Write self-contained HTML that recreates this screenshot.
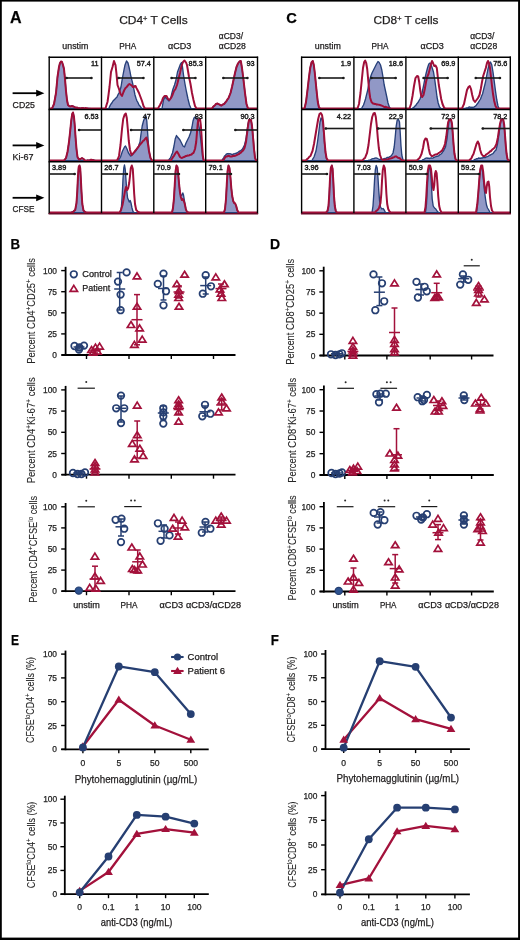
<!DOCTYPE html>
<html><head><meta charset="utf-8"><title>Figure</title>
<style>
html,body{margin:0;padding:0;background:#fff;}
body{width:520px;height:940px;overflow:hidden;font-family:"Liberation Sans", sans-serif;}
svg{display:block;filter:blur(0.3px);}
text{stroke:#1a1a1a;stroke-width:0.25px;}
</style></head><body>
<svg width="520" height="940" viewBox="0 0 520 940" font-family='"Liberation Sans", sans-serif'>
<rect x="0" y="0" width="520" height="940" fill="#fff"/>
<text x="10.00" y="22.60" font-size="16" fill="#000" font-weight="bold" textLength="11.60" lengthAdjust="spacingAndGlyphs">A</text>
<text x="153.40" y="23.60" font-size="11.3" fill="#231f20" text-anchor="middle" textLength="68.50" lengthAdjust="spacingAndGlyphs">CD4<tspan baseline-shift="super" font-size="7">+</tspan> T Cells</text>
<text x="286.20" y="22.90" font-size="15.5" fill="#000" font-weight="bold" textLength="10.60" lengthAdjust="spacingAndGlyphs">C</text>
<text x="406.00" y="23.60" font-size="11.3" fill="#231f20" text-anchor="middle" textLength="65.00" lengthAdjust="spacingAndGlyphs">CD8<tspan baseline-shift="super" font-size="7">+</tspan> T cells</text>
<text x="75.35" y="49.30" font-size="8.6" fill="#231f20" text-anchor="middle" textLength="26.00" lengthAdjust="spacingAndGlyphs">unstim</text>
<text x="127.65" y="49.30" font-size="8.6" fill="#231f20" text-anchor="middle" textLength="17.00" lengthAdjust="spacingAndGlyphs">PHA</text>
<text x="179.75" y="49.30" font-size="8.6" fill="#231f20" text-anchor="middle" textLength="23.30" lengthAdjust="spacingAndGlyphs">αCD3</text>
<text x="218.80" y="38.80" font-size="8.6" fill="#231f20" textLength="24.20" lengthAdjust="spacingAndGlyphs">αCD3/</text>
<text x="218.80" y="49.30" font-size="8.6" fill="#231f20" textLength="27.00" lengthAdjust="spacingAndGlyphs">αCD28</text>
<text x="327.75" y="49.30" font-size="8.6" fill="#231f20" text-anchor="middle" textLength="26.00" lengthAdjust="spacingAndGlyphs">unstim</text>
<text x="379.90" y="49.30" font-size="8.6" fill="#231f20" text-anchor="middle" textLength="17.00" lengthAdjust="spacingAndGlyphs">PHA</text>
<text x="432.10" y="49.30" font-size="8.6" fill="#231f20" text-anchor="middle" textLength="23.30" lengthAdjust="spacingAndGlyphs">αCD3</text>
<text x="470.20" y="38.80" font-size="8.6" fill="#231f20" textLength="24.20" lengthAdjust="spacingAndGlyphs">αCD3/</text>
<text x="470.20" y="49.30" font-size="8.6" fill="#231f20" textLength="27.00" lengthAdjust="spacingAndGlyphs">αCD28</text>
<line x1="12.60" y1="93.20" x2="38.50" y2="93.20" stroke="#000" stroke-width="1.8" stroke-linecap="butt"/>
<path d="M36.2 89.80 L44.4 93.20 L36.2 96.60 Z" fill="#000"/>
<text x="12.60" y="107.60" font-size="8.6" fill="#231f20" textLength="22.30" lengthAdjust="spacingAndGlyphs">CD25</text>
<line x1="12.60" y1="145.40" x2="38.50" y2="145.40" stroke="#000" stroke-width="1.8" stroke-linecap="butt"/>
<path d="M36.2 142.00 L44.4 145.40 L36.2 148.80 Z" fill="#000"/>
<text x="12.60" y="159.70" font-size="8.6" fill="#231f20" textLength="21.00" lengthAdjust="spacingAndGlyphs">Ki-67</text>
<line x1="12.60" y1="197.80" x2="38.50" y2="197.80" stroke="#000" stroke-width="1.8" stroke-linecap="butt"/>
<path d="M36.2 194.40 L44.4 197.80 L36.2 201.20 Z" fill="#000"/>
<text x="12.60" y="212.20" font-size="8.6" fill="#231f20" textLength="22.00" lengthAdjust="spacingAndGlyphs">CFSE</text>
<clipPath id="c1"><rect x="49.20" y="57.20" width="52.30" height="52.30"/></clipPath>
<g clip-path="url(#c1)">
<path d="M48.20 108.60 L52.00 108.60 L52.00 108.50 L53.00 106.04 L54.00 104.00 L55.00 98.18 L56.00 93.00 L57.50 77.00 L59.00 67.00 L60.00 63.00 L61.00 61.50 L62.00 62.00 L63.00 65.00 L64.00 69.00 L65.00 79.00 L66.00 91.00 L67.00 100.00 L68.00 105.00 L69.50 106.30 L70.33 106.12 L71.17 105.82 L72.00 106.00 L73.00 106.00 L74.00 106.70 L75.00 107.12 L76.00 107.70 L76.80 108.13 L77.60 108.14 L78.40 108.21 L79.20 107.88 L80.00 108.20 L80.83 108.25 L81.67 108.07 L82.50 108.01 L83.33 107.98 L84.17 108.10 L85.00 108.69 L85.83 108.64 L86.67 108.65 L87.50 108.67 L88.33 108.20 L89.17 108.32 L90.00 108.50 L90.00 108.60 L102.50 108.60 Z" fill="#9198c6" stroke="#27407a" stroke-width="1.35" stroke-linejoin="round"/>
<path d="M48.20 108.60 L52.00 108.60 L52.00 108.50 L53.00 106.35 L54.00 104.00 L55.00 98.69 L56.00 93.00 L57.50 77.00 L59.00 67.00 L60.00 63.00 L61.00 61.50 L62.00 62.00 L63.00 65.00 L64.00 69.00 L65.00 79.00 L66.00 91.00 L67.00 100.00 L68.00 105.00 L69.50 106.30 L70.33 106.44 L71.17 106.45 L72.00 106.00 L73.00 106.54 L74.00 106.70 L75.00 107.54 L76.00 107.70 L76.80 107.42 L77.60 107.87 L78.40 108.35 L79.20 108.22 L80.00 108.20 L80.83 108.55 L81.67 107.94 L82.50 108.25 L83.33 108.10 L84.17 108.36 L85.00 108.41 L85.83 107.99 L86.67 108.17 L87.50 108.25 L88.33 108.78 L89.17 108.69 L90.00 108.50 L90.00 108.60 L102.50 108.60" fill="none" stroke="#a00f39" stroke-width="2.0" stroke-linejoin="round"/>
</g>
<clipPath id="c2"><rect x="101.50" y="57.20" width="52.30" height="52.30"/></clipPath>
<g clip-path="url(#c2)">
<path d="M100.50 108.60 L108.50 108.60 L108.50 109.00 L109.33 107.19 L110.17 105.39 L111.00 104.00 L112.00 102.79 L113.00 100.99 L114.00 100.00 L115.00 99.03 L116.00 97.89 L117.00 97.00 L118.00 94.65 L119.00 93.00 L120.00 90.01 L121.00 87.00 L122.00 80.63 L123.00 75.00 L124.00 69.95 L125.00 65.00 L126.50 61.00 L128.00 63.00 L129.00 67.00 L130.00 71.66 L131.00 77.00 L132.00 80.67 L133.00 85.00 L134.00 89.94 L135.00 95.00 L136.00 98.26 L137.00 101.00 L138.00 102.70 L139.00 105.00 L140.00 106.03 L141.00 107.50 L142.00 108.35 L143.00 109.00 L143.00 108.60 L154.80 108.60 Z" fill="#9198c6" stroke="#27407a" stroke-width="1.35" stroke-linejoin="round"/>
<path d="M100.50 108.60 L105.50 108.60 L105.50 108.50 L106.50 105.03 L107.50 102.00 L108.50 94.87 L109.50 87.00 L111.00 72.00 L112.50 67.00 L114.00 61.00 L115.50 65.00 L116.50 74.00 L117.50 85.00 L119.00 89.00 L120.50 94.00 L122.00 96.00 L123.50 92.00 L124.50 89.70 L125.50 88.00 L126.50 87.16 L127.50 86.00 L128.50 84.67 L129.50 84.00 L131.00 85.00 L132.00 85.80 L133.00 87.00 L133.83 87.07 L134.67 86.10 L135.50 86.00 L136.50 88.11 L137.50 90.00 L139.00 93.00 L140.50 97.00 L142.00 101.00 L143.50 106.00 L145.00 108.50 L145.00 108.60 L154.80 108.60" fill="none" stroke="#a00f39" stroke-width="2.0" stroke-linejoin="round"/>
</g>
<clipPath id="c3"><rect x="153.80" y="57.20" width="51.90" height="52.30"/></clipPath>
<g clip-path="url(#c3)">
<path d="M152.80 108.60 L162.00 108.60 L162.00 108.50 L163.50 100.00 L165.00 97.00 L166.00 98.06 L167.00 99.00 L168.00 99.94 L169.00 101.00 L170.00 99.06 L171.00 97.00 L172.00 92.76 L173.00 89.00 L174.50 85.00 L176.00 80.00 L177.50 72.00 L179.00 68.00 L180.50 64.00 L181.50 62.50 L182.50 67.00 L183.50 75.00 L185.00 84.00 L186.50 92.00 L188.00 99.00 L189.50 105.00 L191.00 108.50 L191.00 108.60 L206.70 108.60 Z" fill="#9198c6" stroke="#27407a" stroke-width="1.35" stroke-linejoin="round"/>
<path d="M152.80 108.60 L158.00 108.60 L158.00 108.50 L159.00 106.63 L160.00 104.88 L161.00 103.00 L162.00 100.84 L163.00 98.00 L164.50 96.00 L165.50 95.97 L166.50 96.00 L168.00 99.00 L169.50 100.00 L171.00 98.00 L172.50 95.00 L174.00 91.00 L175.50 89.00 L177.00 85.00 L178.50 79.00 L180.00 73.00 L181.50 66.00 L183.00 62.00 L184.50 60.50 L186.00 62.50 L187.00 65.00 L188.00 71.00 L189.00 77.00 L190.50 84.00 L192.00 93.00 L193.50 100.00 L195.00 106.00 L196.50 108.50 L196.50 108.60 L206.70 108.60" fill="none" stroke="#a00f39" stroke-width="2.0" stroke-linejoin="round"/>
</g>
<clipPath id="c4"><rect x="205.70" y="57.20" width="51.80" height="52.30"/></clipPath>
<g clip-path="url(#c4)">
<path d="M204.70 108.60 L212.00 108.60 L212.00 108.50 L213.00 107.06 L214.00 106.00 L215.00 105.15 L216.00 104.00 L217.50 103.50 L218.50 104.15 L219.50 104.50 L220.50 105.28 L221.50 105.50 L222.33 104.75 L223.17 104.28 L224.00 104.00 L224.83 102.72 L225.67 101.78 L226.50 101.00 L227.50 99.69 L228.50 98.00 L229.50 95.20 L230.50 93.00 L232.00 87.00 L233.50 80.00 L235.00 73.00 L236.50 67.00 L238.00 63.50 L239.50 61.50 L240.80 61.00 L242.00 68.00 L243.50 80.00 L245.00 93.00 L246.50 104.00 L248.00 108.50 L248.00 108.60 L258.50 108.60 Z" fill="#9198c6" stroke="#27407a" stroke-width="1.35" stroke-linejoin="round"/>
<path d="M204.70 108.60 L212.00 108.60 L212.00 108.50 L213.00 106.94 L214.00 106.00 L215.00 105.16 L216.00 104.00 L217.50 103.50 L218.50 104.12 L219.50 104.50 L220.50 105.35 L221.50 105.50 L222.33 104.82 L223.17 104.30 L224.00 104.00 L224.83 103.19 L225.67 102.13 L226.50 101.00 L227.50 99.34 L228.50 98.00 L229.50 95.65 L230.50 93.00 L232.00 87.00 L233.50 80.00 L235.00 73.00 L236.50 67.00 L238.00 63.50 L239.50 61.50 L240.80 61.00 L242.00 68.00 L243.50 80.00 L245.00 93.00 L246.50 104.00 L248.00 108.50 L248.00 108.60 L258.50 108.60" fill="none" stroke="#a00f39" stroke-width="2.0" stroke-linejoin="round"/>
</g>
<clipPath id="c5"><rect x="49.20" y="109.50" width="52.30" height="52.30"/></clipPath>
<g clip-path="url(#c5)">
<path d="M48.20 160.60 L64.00 160.60 L64.00 160.50 L65.00 159.14 L66.00 158.00 L67.50 152.00 L69.00 142.00 L70.20 131.00 L71.20 121.00 L72.20 114.00 L73.00 112.50 L74.00 117.00 L74.80 126.00 L75.60 138.00 L76.50 149.00 L77.50 157.00 L79.00 159.50 L80.50 159.00 L82.00 158.00 L83.50 159.00 L85.00 160.50 L85.80 160.43 L86.60 160.33 L87.40 160.31 L88.20 160.23 L89.00 160.38 L89.80 160.01 L90.60 160.26 L91.40 159.71 L92.20 159.89 L93.00 160.00 L94.00 160.12 L95.00 160.50 L95.00 160.60 L102.50 160.60 Z" fill="#9198c6" stroke="#27407a" stroke-width="1.35" stroke-linejoin="round"/>
<path d="M48.20 160.60 L64.00 160.60 L64.00 160.50 L65.00 159.27 L66.00 158.00 L67.50 152.00 L69.00 142.00 L70.20 131.00 L71.20 121.00 L72.20 114.00 L73.00 112.50 L74.00 117.00 L74.80 126.00 L75.60 138.00 L76.50 149.00 L77.50 157.00 L79.00 159.50 L80.50 159.00 L82.00 158.00 L83.50 159.00 L85.00 160.50 L85.80 160.70 L86.60 160.77 L87.40 160.18 L88.20 160.51 L89.00 160.41 L89.80 160.33 L90.60 159.84 L91.40 159.72 L92.20 159.96 L93.00 160.00 L94.00 160.45 L95.00 160.50 L95.00 160.60 L102.50 160.60" fill="none" stroke="#a00f39" stroke-width="2.0" stroke-linejoin="round"/>
</g>
<clipPath id="c6"><rect x="101.50" y="109.50" width="52.30" height="52.30"/></clipPath>
<g clip-path="url(#c6)">
<path d="M100.50 160.60 L118.00 160.60 L118.00 160.50 L118.83 159.48 L119.67 158.39 L120.50 157.00 L121.50 154.02 L122.50 151.00 L123.50 149.01 L124.50 147.00 L125.50 146.00 L127.00 149.00 L128.50 153.00 L129.50 154.41 L130.50 156.00 L131.50 155.65 L132.50 154.50 L133.33 153.50 L134.17 152.55 L135.00 152.00 L136.00 150.31 L137.00 149.00 L138.50 146.00 L140.00 142.00 L141.00 134.00 L142.20 126.00 L143.50 121.00 L145.00 117.00 L146.00 116.00 L146.80 121.00 L147.50 131.00 L148.20 141.00 L149.00 151.00 L150.50 158.00 L152.00 160.50 L152.00 160.60 L154.80 160.60 Z" fill="#9198c6" stroke="#27407a" stroke-width="1.35" stroke-linejoin="round"/>
<path d="M100.50 160.60 L117.00 160.60 L117.00 160.50 L118.00 158.57 L119.00 156.00 L120.50 145.00 L122.00 129.00 L123.20 119.00 L124.50 115.00 L125.80 113.50 L126.80 118.00 L127.80 129.00 L128.80 141.00 L130.00 150.00 L131.50 155.00 L133.00 153.50 L134.00 152.40 L135.00 151.00 L136.00 149.96 L137.00 148.50 L138.00 147.57 L139.00 146.00 L140.00 144.56 L141.00 143.50 L142.00 142.36 L143.00 141.00 L144.00 140.32 L145.00 139.00 L146.50 137.50 L147.80 143.00 L149.00 151.00 L150.50 158.00 L152.00 160.50 L152.00 160.60 L154.80 160.60" fill="none" stroke="#a00f39" stroke-width="2.0" stroke-linejoin="round"/>
</g>
<clipPath id="c7"><rect x="153.80" y="109.50" width="51.90" height="52.30"/></clipPath>
<g clip-path="url(#c7)">
<path d="M152.80 160.60 L168.00 160.60 L168.00 160.50 L168.83 160.03 L169.67 158.55 L170.50 158.00 L171.50 155.12 L172.50 153.00 L174.00 146.00 L175.20 139.00 L176.50 135.50 L177.50 137.00 L178.80 138.50 L180.00 140.00 L181.50 143.00 L183.00 146.00 L184.50 147.00 L186.00 143.00 L187.50 140.00 L189.00 137.00 L190.50 133.00 L192.00 127.00 L193.00 121.00 L194.00 118.00 L195.00 117.00 L196.50 118.00 L198.00 121.00 L199.50 129.00 L201.00 142.00 L202.50 156.00 L203.50 160.50 L203.50 160.60 L206.70 160.60 Z" fill="#9198c6" stroke="#27407a" stroke-width="1.35" stroke-linejoin="round"/>
<path d="M152.80 160.60 L170.50 160.60 L170.50 160.50 L171.33 159.67 L172.17 158.53 L173.00 157.00 L174.00 155.81 L175.00 154.00 L176.00 152.42 L177.00 151.50 L178.50 154.00 L180.00 157.00 L181.00 157.57 L182.00 158.00 L183.00 157.44 L184.00 157.00 L184.83 156.69 L185.67 156.04 L186.50 156.00 L187.33 155.59 L188.17 155.62 L189.00 155.50 L189.83 154.94 L190.67 154.80 L191.50 154.50 L192.50 153.37 L193.50 153.00 L195.00 149.00 L196.20 142.00 L197.00 132.00 L197.80 123.00 L198.50 119.50 L200.00 119.00 L200.80 125.00 L201.50 135.00 L202.20 147.00 L203.00 157.00 L203.70 160.50 L203.70 160.60 L206.70 160.60" fill="none" stroke="#a00f39" stroke-width="2.0" stroke-linejoin="round"/>
</g>
<clipPath id="c8"><rect x="205.70" y="109.50" width="51.80" height="52.30"/></clipPath>
<g clip-path="url(#c8)">
<path d="M204.70 160.60 L222.00 160.60 L222.00 160.50 L222.83 158.90 L223.67 157.84 L224.50 156.00 L225.50 155.27 L226.50 154.00 L227.33 153.60 L228.17 153.96 L229.00 153.50 L229.83 153.94 L230.67 153.80 L231.50 154.50 L232.33 154.70 L233.17 153.97 L234.00 154.00 L235.00 153.51 L236.00 153.27 L237.00 153.00 L238.00 152.40 L239.00 151.37 L240.00 151.00 L240.83 150.48 L241.67 149.93 L242.50 149.00 L243.50 147.01 L244.50 145.00 L246.00 139.00 L247.00 131.00 L248.00 124.00 L249.00 120.00 L250.00 120.24 L251.00 120.00 L252.00 125.00 L253.00 135.00 L254.00 147.00 L255.00 157.00 L256.00 160.50 L256.00 160.60 L258.50 160.60 Z" fill="#9198c6" stroke="#27407a" stroke-width="1.35" stroke-linejoin="round"/>
<path d="M204.70 160.60 L223.00 160.60 L223.00 160.50 L223.83 159.53 L224.67 157.93 L225.50 157.00 L226.33 156.43 L227.17 156.41 L228.00 156.00 L229.00 155.81 L230.00 156.55 L231.00 156.50 L232.00 156.54 L233.00 155.80 L234.00 156.00 L235.00 155.81 L236.00 155.34 L237.00 155.00 L238.00 154.44 L239.00 154.03 L240.00 153.00 L240.83 152.72 L241.67 151.59 L242.50 151.00 L243.50 149.78 L244.50 148.00 L246.00 142.00 L247.00 134.00 L248.00 126.00 L249.00 120.00 L250.00 120.23 L251.00 120.00 L252.00 126.00 L253.00 137.00 L254.00 149.00 L255.00 158.00 L256.00 160.50 L256.00 160.60 L258.50 160.60" fill="none" stroke="#a00f39" stroke-width="2.0" stroke-linejoin="round"/>
</g>
<clipPath id="c9"><rect x="49.20" y="161.80" width="52.30" height="52.20"/></clipPath>
<g clip-path="url(#c9)">
<path d="M48.20 212.60 L71.00 212.60 L71.00 212.50 L72.00 211.94 L73.00 212.00 L74.10 210.70 L75.20 210.00 L76.50 203.00 L77.30 191.00 L78.00 176.00 L78.70 167.00 L79.50 165.50 L80.20 168.00 L80.80 178.00 L81.50 192.00 L82.30 204.00 L83.50 210.50 L85.00 212.00 L86.00 212.33 L87.00 212.50 L87.00 212.60 L102.50 212.60 Z" fill="#9198c6" stroke="#27407a" stroke-width="1.35" stroke-linejoin="round"/>
<path d="M48.20 212.60 L71.00 212.60 L71.00 212.50 L72.00 212.29 L73.00 212.00 L74.10 210.88 L75.20 210.00 L76.50 203.00 L77.30 191.00 L78.00 176.00 L78.70 167.00 L79.50 165.50 L80.20 168.00 L80.80 178.00 L81.50 192.00 L82.30 204.00 L83.50 210.50 L85.00 212.00 L86.00 212.53 L87.00 212.50 L87.00 212.60 L102.50 212.60" fill="none" stroke="#a00f39" stroke-width="2.0" stroke-linejoin="round"/>
</g>
<clipPath id="c10"><rect x="101.50" y="161.80" width="52.30" height="52.20"/></clipPath>
<g clip-path="url(#c10)">
<path d="M100.50 212.60 L120.50 212.60 L120.50 212.50 L121.50 206.00 L122.30 194.00 L123.00 179.00 L123.80 168.00 L124.50 165.00 L125.20 169.00 L126.00 180.00 L126.80 191.00 L127.60 198.00 L128.50 200.00 L129.30 202.00 L130.20 200.50 L131.00 203.00 L132.00 208.00 L133.00 211.50 L134.00 212.50 L134.00 212.60 L154.80 212.60 Z" fill="#9198c6" stroke="#27407a" stroke-width="1.35" stroke-linejoin="round"/>
<path d="M100.50 212.60 L119.50 212.60 L119.50 212.50 L121.00 210.00 L122.50 205.00 L123.80 198.00 L125.00 191.00 L126.00 187.00 L127.20 190.00 L128.20 188.00 L129.20 183.00 L130.00 176.00 L130.80 168.00 L131.80 165.50 L132.80 169.00 L133.50 181.00 L134.20 194.00 L135.00 204.00 L136.20 210.00 L137.10 210.76 L138.00 212.20 L139.00 212.12 L140.00 212.50 L140.00 212.60 L154.80 212.60" fill="none" stroke="#a00f39" stroke-width="2.0" stroke-linejoin="round"/>
</g>
<clipPath id="c11"><rect x="153.80" y="161.80" width="51.90" height="52.20"/></clipPath>
<g clip-path="url(#c11)">
<path d="M152.80 212.60 L172.00 212.60 L172.00 212.50 L173.00 208.00 L174.00 198.00 L174.80 184.00 L175.60 171.00 L176.50 165.50 L177.50 167.00 L178.20 174.00 L179.00 183.00 L179.80 191.00 L180.80 196.00 L182.00 195.00 L182.80 193.00 L183.50 195.00 L184.50 201.00 L185.80 209.00 L187.00 212.00 L188.50 212.50 L188.50 212.60 L206.70 212.60 Z" fill="#9198c6" stroke="#27407a" stroke-width="1.35" stroke-linejoin="round"/>
<path d="M152.80 212.60 L172.00 212.60 L172.00 212.50 L173.00 208.00 L174.00 198.00 L174.80 184.00 L175.60 171.00 L176.50 165.50 L177.50 167.00 L178.20 174.00 L179.00 183.00 L179.80 191.00 L180.80 197.00 L181.80 200.00 L182.80 199.00 L183.80 201.00 L184.80 204.00 L185.80 209.00 L187.00 212.00 L188.50 212.50 L188.50 212.60 L206.70 212.60" fill="none" stroke="#a00f39" stroke-width="2.0" stroke-linejoin="round"/>
</g>
<clipPath id="c12"><rect x="205.70" y="161.80" width="51.80" height="52.20"/></clipPath>
<g clip-path="url(#c12)">
<path d="M204.70 212.60 L224.00 212.60 L224.00 212.50 L225.00 209.00 L226.00 199.00 L226.80 184.00 L227.60 171.00 L228.50 165.50 L229.50 168.00 L230.50 178.00 L231.30 188.00 L232.20 196.00 L233.20 201.00 L234.20 203.00 L235.20 203.50 L236.20 206.00 L237.20 210.00 L238.50 212.50 L238.50 212.60 L258.50 212.60 Z" fill="#9198c6" stroke="#27407a" stroke-width="1.35" stroke-linejoin="round"/>
<path d="M204.70 212.60 L224.00 212.60 L224.00 212.50 L225.00 209.00 L226.00 199.00 L226.80 184.00 L227.60 171.00 L228.50 165.50 L229.50 168.00 L230.50 178.00 L231.30 188.00 L232.20 196.00 L233.20 201.00 L234.20 203.00 L235.20 203.50 L236.20 206.00 L237.20 210.00 L238.50 212.50 L238.50 212.60 L258.50 212.60" fill="none" stroke="#a00f39" stroke-width="2.0" stroke-linejoin="round"/>
</g>
<line x1="49.20" y1="56.60" x2="49.20" y2="214.00" stroke="#000" stroke-width="1.4" stroke-linecap="butt"/>
<line x1="101.50" y1="56.60" x2="101.50" y2="214.00" stroke="#000" stroke-width="1.4" stroke-linecap="butt"/>
<line x1="153.80" y1="56.60" x2="153.80" y2="214.00" stroke="#000" stroke-width="1.4" stroke-linecap="butt"/>
<line x1="205.70" y1="56.60" x2="205.70" y2="214.00" stroke="#000" stroke-width="1.4" stroke-linecap="butt"/>
<line x1="257.50" y1="56.60" x2="257.50" y2="214.00" stroke="#000" stroke-width="1.4" stroke-linecap="butt"/>
<line x1="48.60" y1="57.20" x2="258.10" y2="57.20" stroke="#000" stroke-width="1.4" stroke-linecap="butt"/>
<line x1="48.60" y1="109.50" x2="258.10" y2="109.50" stroke="#000" stroke-width="1.4" stroke-linecap="butt"/>
<line x1="48.60" y1="161.80" x2="258.10" y2="161.80" stroke="#000" stroke-width="1.4" stroke-linecap="butt"/>
<line x1="48.60" y1="213.70" x2="258.10" y2="213.70" stroke="#6a0c2a" stroke-width="1.6" stroke-linecap="butt"/>
<line x1="66.00" y1="78.00" x2="92.00" y2="78.00" stroke="#1a1a1a" stroke-width="1.6" stroke-linecap="butt"/>
<circle cx="66.60" cy="78.00" r="1.35" fill="#1a1a1a"/>
<circle cx="91.40" cy="78.00" r="1.35" fill="#1a1a1a"/>
<line x1="118.00" y1="78.00" x2="144.00" y2="78.00" stroke="#1a1a1a" stroke-width="1.6" stroke-linecap="butt"/>
<circle cx="118.60" cy="78.00" r="1.35" fill="#1a1a1a"/>
<circle cx="143.40" cy="78.00" r="1.35" fill="#1a1a1a"/>
<line x1="171.00" y1="78.00" x2="196.00" y2="78.00" stroke="#1a1a1a" stroke-width="1.6" stroke-linecap="butt"/>
<circle cx="171.60" cy="78.00" r="1.35" fill="#1a1a1a"/>
<circle cx="195.40" cy="78.00" r="1.35" fill="#1a1a1a"/>
<line x1="222.80" y1="78.00" x2="248.00" y2="78.00" stroke="#1a1a1a" stroke-width="1.6" stroke-linecap="butt"/>
<circle cx="223.40" cy="78.00" r="1.35" fill="#1a1a1a"/>
<circle cx="247.40" cy="78.00" r="1.35" fill="#1a1a1a"/>
<line x1="78.50" y1="130.00" x2="101.50" y2="130.00" stroke="#1a1a1a" stroke-width="1.6" stroke-linecap="butt"/>
<circle cx="79.10" cy="130.00" r="1.35" fill="#1a1a1a"/>
<line x1="130.50" y1="130.00" x2="153.80" y2="130.00" stroke="#1a1a1a" stroke-width="1.6" stroke-linecap="butt"/>
<circle cx="131.10" cy="130.00" r="1.35" fill="#1a1a1a"/>
<line x1="182.80" y1="130.00" x2="205.70" y2="130.00" stroke="#1a1a1a" stroke-width="1.6" stroke-linecap="butt"/>
<circle cx="183.40" cy="130.00" r="1.35" fill="#1a1a1a"/>
<line x1="234.80" y1="130.00" x2="257.50" y2="130.00" stroke="#1a1a1a" stroke-width="1.6" stroke-linecap="butt"/>
<circle cx="235.40" cy="130.00" r="1.35" fill="#1a1a1a"/>
<line x1="49.20" y1="174.00" x2="75.20" y2="174.00" stroke="#1a1a1a" stroke-width="1.6" stroke-linecap="butt"/>
<circle cx="74.60" cy="174.00" r="1.35" fill="#1a1a1a"/>
<line x1="101.50" y1="174.00" x2="127.50" y2="174.00" stroke="#1a1a1a" stroke-width="1.6" stroke-linecap="butt"/>
<circle cx="126.90" cy="174.00" r="1.35" fill="#1a1a1a"/>
<line x1="153.80" y1="174.00" x2="179.50" y2="174.00" stroke="#1a1a1a" stroke-width="1.6" stroke-linecap="butt"/>
<circle cx="178.90" cy="174.00" r="1.35" fill="#1a1a1a"/>
<line x1="205.70" y1="174.00" x2="231.50" y2="174.00" stroke="#1a1a1a" stroke-width="1.6" stroke-linecap="butt"/>
<circle cx="230.90" cy="174.00" r="1.35" fill="#1a1a1a"/>
<text x="98.60" y="65.70" font-size="7.3" fill="#1a1a1a" text-anchor="end" style="stroke-width:0.4px">11</text>
<text x="150.90" y="65.70" font-size="7.3" fill="#1a1a1a" text-anchor="end" style="stroke-width:0.4px">57.4</text>
<text x="202.80" y="65.70" font-size="7.3" fill="#1a1a1a" text-anchor="end" style="stroke-width:0.4px">85.3</text>
<text x="254.60" y="65.70" font-size="7.3" fill="#1a1a1a" text-anchor="end" style="stroke-width:0.4px">93</text>
<text x="98.60" y="118.60" font-size="7.3" fill="#1a1a1a" text-anchor="end" style="stroke-width:0.4px">6.53</text>
<text x="150.90" y="118.60" font-size="7.3" fill="#1a1a1a" text-anchor="end" style="stroke-width:0.4px">47</text>
<text x="202.80" y="118.60" font-size="7.3" fill="#1a1a1a" text-anchor="end" style="stroke-width:0.4px">83</text>
<text x="254.60" y="118.60" font-size="7.3" fill="#1a1a1a" text-anchor="end" style="stroke-width:0.4px">90.3</text>
<text x="52.00" y="169.90" font-size="7.3" fill="#1a1a1a" style="stroke-width:0.4px">3.89</text>
<text x="104.30" y="169.90" font-size="7.3" fill="#1a1a1a" style="stroke-width:0.4px">26.7</text>
<text x="156.60" y="169.90" font-size="7.3" fill="#1a1a1a" style="stroke-width:0.4px">70.9</text>
<text x="208.50" y="169.90" font-size="7.3" fill="#1a1a1a" style="stroke-width:0.4px">79.1</text>
<clipPath id="c20"><rect x="301.60" y="57.20" width="52.30" height="52.30"/></clipPath>
<g clip-path="url(#c20)">
<path d="M300.60 108.60 L304.50 108.60 L304.50 108.50 L306.00 102.00 L307.50 90.00 L309.00 77.00 L310.20 68.00 L311.50 62.50 L312.80 61.00 L313.80 65.00 L314.80 73.00 L315.80 83.00 L316.80 93.00 L317.80 102.00 L319.00 107.50 L320.50 108.50 L320.50 108.60 L354.90 108.60 Z" fill="#9198c6" stroke="#27407a" stroke-width="1.35" stroke-linejoin="round"/>
<path d="M300.60 108.60 L304.50 108.60 L304.50 108.50 L306.00 102.00 L307.50 90.00 L309.00 77.00 L310.20 68.00 L311.50 62.50 L312.80 61.00 L313.80 65.00 L314.80 73.00 L315.80 83.00 L316.80 93.00 L317.80 102.00 L319.00 107.50 L320.50 108.50 L320.50 108.60 L354.90 108.60" fill="none" stroke="#a00f39" stroke-width="2.0" stroke-linejoin="round"/>
</g>
<clipPath id="c21"><rect x="353.90" y="57.20" width="52.00" height="52.30"/></clipPath>
<g clip-path="url(#c21)">
<path d="M352.90 108.60 L361.50 108.60 L361.50 108.50 L362.50 106.73 L363.50 105.00 L364.50 102.10 L365.50 99.00 L366.50 94.92 L367.50 91.00 L369.00 83.00 L370.50 77.00 L372.00 73.00 L373.50 70.00 L375.00 67.00 L376.50 64.00 L378.00 61.50 L379.20 62.50 L380.50 65.00 L381.80 70.00 L383.00 77.00 L384.20 85.00 L385.50 91.00 L386.80 97.00 L388.00 103.00 L389.50 107.50 L391.00 108.50 L391.00 108.60 L406.90 108.60 Z" fill="#9198c6" stroke="#27407a" stroke-width="1.35" stroke-linejoin="round"/>
<path d="M352.90 108.60 L357.50 108.60 L357.50 108.50 L359.00 104.00 L360.50 93.00 L361.80 80.00 L363.00 68.00 L364.20 62.00 L365.20 60.50 L366.20 63.00 L367.20 69.00 L368.20 80.00 L369.20 91.00 L370.20 98.00 L371.50 102.00 L373.00 103.50 L374.00 103.68 L375.00 104.00 L375.83 104.00 L376.67 104.61 L377.50 104.50 L378.33 104.62 L379.17 104.86 L380.00 105.00 L380.83 105.37 L381.67 105.54 L382.50 106.00 L383.33 106.44 L384.17 106.99 L385.00 107.00 L385.83 106.82 L386.67 107.38 L387.50 107.50 L388.50 107.81 L389.50 108.50 L389.50 108.60 L406.90 108.60" fill="none" stroke="#a00f39" stroke-width="2.0" stroke-linejoin="round"/>
</g>
<clipPath id="c22"><rect x="405.90" y="57.20" width="52.40" height="52.30"/></clipPath>
<g clip-path="url(#c22)">
<path d="M404.90 108.60 L412.50 108.60 L412.50 108.50 L413.33 107.33 L414.17 107.05 L415.00 106.00 L415.83 105.38 L416.67 103.93 L417.50 103.00 L418.33 102.02 L419.17 100.28 L420.00 99.00 L421.00 96.10 L422.00 93.00 L423.50 86.00 L425.00 78.00 L426.20 73.00 L427.50 68.00 L428.80 64.00 L430.00 63.00 L431.20 65.00 L432.20 68.00 L433.50 72.00 L434.80 80.00 L436.00 89.00 L437.00 97.00 L438.20 103.00 L439.50 107.00 L441.00 108.50 L441.00 108.60 L459.30 108.60 Z" fill="#9198c6" stroke="#27407a" stroke-width="1.35" stroke-linejoin="round"/>
<path d="M404.90 108.60 L409.50 108.60 L409.50 108.50 L411.00 104.00 L412.50 96.00 L414.00 86.00 L415.50 78.00 L417.00 76.00 L418.20 76.50 L419.20 82.00 L420.20 90.00 L421.20 96.00 L422.20 97.00 L423.50 95.00 L424.80 89.00 L426.00 82.00 L427.20 77.00 L428.50 74.00 L429.80 69.00 L431.00 64.00 L432.00 61.00 L433.00 63.00 L434.20 66.00 L435.50 65.50 L436.80 68.00 L437.80 77.00 L438.80 85.00 L440.00 92.00 L441.20 99.00 L442.50 104.00 L444.00 107.50 L445.50 108.50 L445.50 108.60 L459.30 108.60" fill="none" stroke="#a00f39" stroke-width="2.0" stroke-linejoin="round"/>
</g>
<clipPath id="c23"><rect x="458.30" y="57.20" width="52.00" height="52.30"/></clipPath>
<g clip-path="url(#c23)">
<path d="M457.30 108.60 L464.00 108.60 L464.00 108.50 L465.00 108.66 L466.00 108.00 L467.00 108.00 L468.00 107.63 L469.00 107.04 L470.00 107.00 L471.00 107.56 L472.00 107.06 L473.00 107.50 L473.83 107.14 L474.67 106.58 L475.50 106.00 L476.33 105.17 L477.17 103.93 L478.00 103.00 L478.83 101.57 L479.67 100.25 L480.50 99.00 L481.50 96.16 L482.50 94.00 L484.00 88.00 L485.50 82.00 L486.80 75.00 L488.00 69.00 L489.20 64.00 L490.50 62.00 L491.80 65.00 L493.00 72.00 L494.20 81.00 L495.50 91.00 L496.80 100.00 L498.00 106.00 L499.00 108.50 L499.00 108.60 L511.30 108.60 Z" fill="#9198c6" stroke="#27407a" stroke-width="1.35" stroke-linejoin="round"/>
<path d="M457.30 108.60 L462.00 108.60 L462.00 108.50 L463.00 106.11 L464.00 104.00 L465.50 97.00 L467.00 90.00 L468.50 87.00 L469.80 86.00 L471.00 89.00 L472.20 95.00 L473.50 100.00 L475.00 102.00 L476.50 100.00 L478.00 98.00 L479.50 95.00 L480.80 89.00 L482.00 82.00 L483.20 76.00 L484.50 72.00 L485.80 68.00 L487.00 63.00 L488.00 61.00 L489.00 63.00 L490.00 68.00 L491.00 77.00 L492.00 86.00 L493.00 94.00 L494.20 101.00 L495.50 106.00 L497.00 108.50 L497.00 108.60 L511.30 108.60" fill="none" stroke="#a00f39" stroke-width="2.0" stroke-linejoin="round"/>
</g>
<clipPath id="c24"><rect x="301.60" y="109.50" width="52.30" height="52.30"/></clipPath>
<g clip-path="url(#c24)">
<path d="M300.60 160.60 L312.00 160.60 L312.00 160.50 L313.00 158.57 L314.00 157.00 L315.00 154.00 L316.00 151.00 L317.50 142.00 L318.80 132.00 L320.00 122.00 L321.00 118.00 L322.00 119.00 L323.00 124.00 L323.80 134.00 L324.60 144.00 L325.50 153.00 L326.50 158.50 L327.50 160.50 L327.50 160.60 L354.90 160.60 Z" fill="#9198c6" stroke="#27407a" stroke-width="1.35" stroke-linejoin="round"/>
<path d="M300.60 160.60 L305.00 160.60 L305.00 160.50 L306.00 160.12 L307.00 159.18 L308.00 158.50 L308.83 157.36 L309.67 156.53 L310.50 156.00 L311.50 153.35 L312.50 151.00 L314.00 144.00 L315.50 135.00 L317.00 126.00 L318.20 119.00 L319.50 114.00 L320.80 113.00 L322.00 115.00 L323.00 121.00 L323.80 131.00 L324.60 142.00 L325.50 152.00 L326.50 158.00 L328.00 160.50 L328.00 160.60 L354.90 160.60" fill="none" stroke="#a00f39" stroke-width="2.0" stroke-linejoin="round"/>
</g>
<clipPath id="c25"><rect x="353.90" y="109.50" width="52.00" height="52.30"/></clipPath>
<g clip-path="url(#c25)">
<path d="M352.90 160.60 L368.00 160.60 L368.00 160.50 L369.00 160.06 L370.00 160.19 L371.00 159.50 L372.00 158.93 L373.00 158.67 L374.00 158.50 L375.00 158.18 L376.00 158.00 L376.83 158.12 L377.67 158.51 L378.50 159.00 L379.38 159.40 L380.25 159.24 L381.12 159.04 L382.00 159.50 L383.00 159.44 L384.00 158.62 L385.00 158.50 L386.00 158.40 L387.00 157.48 L388.00 157.50 L389.00 157.13 L390.00 156.57 L391.00 156.00 L392.00 154.59 L393.00 153.00 L394.20 147.00 L395.20 137.00 L396.20 126.00 L397.20 120.00 L398.50 119.50 L399.50 122.00 L400.30 134.00 L401.00 146.00 L401.80 155.00 L403.00 160.00 L404.00 160.50 L404.00 160.60 L406.90 160.60 Z" fill="#9198c6" stroke="#27407a" stroke-width="1.35" stroke-linejoin="round"/>
<path d="M352.90 160.60 L362.00 160.60 L362.00 160.50 L363.00 159.91 L364.00 158.69 L365.00 158.00 L366.00 155.29 L367.00 153.00 L368.50 145.00 L369.80 134.00 L371.00 124.00 L372.20 117.00 L373.50 113.50 L374.80 113.00 L375.80 117.00 L376.80 126.00 L377.80 138.00 L378.80 148.00 L380.00 155.00 L381.50 159.00 L382.50 159.76 L383.50 160.00 L384.33 159.53 L385.17 159.65 L386.00 159.50 L387.00 159.38 L388.00 159.26 L389.00 159.00 L390.00 158.38 L391.00 158.44 L392.00 158.00 L393.00 157.50 L394.00 157.28 L395.00 156.50 L396.00 156.37 L397.00 157.00 L398.00 157.87 L399.00 158.00 L400.00 158.49 L401.00 159.50 L402.00 160.25 L403.00 160.50 L403.00 160.60 L406.90 160.60" fill="none" stroke="#a00f39" stroke-width="2.0" stroke-linejoin="round"/>
</g>
<clipPath id="c26"><rect x="405.90" y="109.50" width="52.40" height="52.30"/></clipPath>
<g clip-path="url(#c26)">
<path d="M404.90 160.60 L422.00 160.60 L422.00 160.50 L422.83 159.72 L423.67 159.38 L424.50 159.00 L425.33 158.40 L426.17 158.13 L427.00 158.00 L427.83 158.32 L428.67 158.06 L429.50 158.50 L430.33 158.21 L431.17 157.93 L432.00 158.00 L433.00 158.05 L434.00 157.33 L435.00 157.00 L436.00 156.51 L437.00 156.26 L438.00 156.00 L439.00 155.60 L440.00 154.56 L441.00 154.00 L441.83 153.25 L442.67 151.91 L443.50 151.00 L444.50 148.81 L445.50 147.00 L447.00 139.00 L448.20 128.00 L449.20 119.50 L450.10 119.82 L451.00 119.50 L452.00 124.00 L452.80 134.00 L453.60 145.00 L454.50 154.00 L455.50 159.00 L456.50 160.50 L456.50 160.60 L459.30 160.60 Z" fill="#9198c6" stroke="#27407a" stroke-width="1.35" stroke-linejoin="round"/>
<path d="M404.90 160.60 L417.00 160.60 L417.00 160.50 L417.83 159.48 L418.67 158.87 L419.50 158.00 L420.50 156.17 L421.50 154.00 L423.00 148.00 L424.20 141.00 L425.50 138.50 L426.80 139.00 L427.80 143.00 L428.80 149.00 L430.00 154.00 L431.50 156.00 L432.50 156.12 L433.50 155.50 L434.50 154.90 L435.50 154.50 L436.50 154.28 L437.50 154.00 L438.50 153.15 L439.50 152.50 L440.50 151.79 L441.50 151.00 L442.50 149.77 L443.50 148.00 L445.00 144.00 L446.20 137.00 L447.20 129.00 L448.20 122.00 L449.20 119.50 L450.10 119.89 L451.00 119.50 L452.00 124.00 L452.80 134.00 L453.60 145.00 L454.50 154.00 L455.50 159.00 L456.50 160.50 L456.50 160.60 L459.30 160.60" fill="none" stroke="#a00f39" stroke-width="2.0" stroke-linejoin="round"/>
</g>
<clipPath id="c27"><rect x="458.30" y="109.50" width="52.00" height="52.30"/></clipPath>
<g clip-path="url(#c27)">
<path d="M457.30 160.60 L473.50 160.60 L473.50 160.50 L474.33 159.72 L475.17 159.49 L476.00 159.00 L476.83 158.67 L477.67 158.71 L478.50 158.00 L479.50 158.25 L480.50 158.23 L481.50 158.00 L482.50 157.98 L483.50 157.39 L484.50 157.50 L485.50 157.50 L486.50 156.78 L487.50 156.50 L488.50 156.07 L489.50 155.18 L490.50 155.00 L491.50 154.18 L492.50 153.94 L493.50 153.00 L494.33 151.70 L495.17 150.67 L496.00 150.00 L497.50 144.00 L499.00 134.00 L500.20 125.00 L501.20 119.50 L502.20 119.36 L503.20 119.50 L504.20 125.00 L505.00 135.00 L505.80 146.00 L506.60 154.00 L507.50 159.00 L508.50 160.50 L508.50 160.60 L511.30 160.60 Z" fill="#9198c6" stroke="#27407a" stroke-width="1.35" stroke-linejoin="round"/>
<path d="M457.30 160.60 L469.00 160.60 L469.00 160.50 L469.83 159.66 L470.67 159.12 L471.50 158.00 L472.50 155.67 L473.50 154.00 L475.00 149.00 L476.50 144.00 L477.80 141.50 L479.00 144.00 L480.20 150.00 L481.50 154.00 L483.00 156.00 L484.00 155.90 L485.00 156.00 L486.00 154.64 L487.00 154.00 L488.00 153.37 L489.00 152.50 L490.00 151.50 L491.00 151.00 L492.00 149.85 L493.00 149.00 L494.00 148.25 L495.00 147.00 L496.50 144.00 L497.80 138.00 L499.00 130.00 L500.20 123.00 L501.20 119.50 L502.20 119.14 L503.20 119.50 L504.20 125.00 L505.00 135.00 L505.80 146.00 L506.60 154.00 L507.50 159.00 L508.50 160.50 L508.50 160.60 L511.30 160.60" fill="none" stroke="#a00f39" stroke-width="2.0" stroke-linejoin="round"/>
</g>
<clipPath id="c28"><rect x="301.60" y="161.80" width="52.30" height="52.20"/></clipPath>
<g clip-path="url(#c28)">
<path d="M300.60 212.60 L326.00 212.60 L326.00 212.50 L327.50 211.00 L328.50 206.00 L329.30 194.00 L330.00 179.00 L330.80 168.00 L331.80 165.50 L332.60 169.00 L333.30 181.00 L334.00 196.00 L334.80 206.00 L335.80 211.00 L337.00 212.50 L337.00 212.60 L354.90 212.60 Z" fill="#9198c6" stroke="#27407a" stroke-width="1.35" stroke-linejoin="round"/>
<path d="M300.60 212.60 L326.00 212.60 L326.00 212.50 L327.50 211.00 L328.50 206.00 L329.30 194.00 L330.00 179.00 L330.80 168.00 L331.80 165.50 L332.60 169.00 L333.30 181.00 L334.00 196.00 L334.80 206.00 L335.80 211.00 L337.00 212.50 L337.00 212.60 L354.90 212.60" fill="none" stroke="#a00f39" stroke-width="2.0" stroke-linejoin="round"/>
</g>
<clipPath id="c29"><rect x="353.90" y="161.80" width="52.00" height="52.20"/></clipPath>
<g clip-path="url(#c29)">
<path d="M352.90 212.60 L372.00 212.60 L372.00 212.50 L373.00 206.00 L373.80 194.00 L374.50 181.00 L375.30 170.00 L376.20 165.50 L377.20 168.00 L378.00 178.00 L378.80 191.00 L379.60 201.00 L380.50 207.00 L381.80 209.00 L383.00 208.50 L384.20 210.00 L385.50 212.50 L385.50 212.60 L406.90 212.60 Z" fill="#9198c6" stroke="#27407a" stroke-width="1.35" stroke-linejoin="round"/>
<path d="M352.90 212.60 L375.00 212.60 L375.00 212.50 L376.00 211.16 L377.00 210.50 L378.00 209.34 L379.00 208.00 L380.50 203.00 L381.30 194.00 L382.00 181.00 L382.80 170.00 L383.80 165.50 L384.80 168.00 L385.60 179.00 L386.40 194.00 L387.20 204.00 L388.20 209.00 L389.50 211.50 L391.00 212.50 L391.00 212.60 L406.90 212.60" fill="none" stroke="#a00f39" stroke-width="2.0" stroke-linejoin="round"/>
</g>
<clipPath id="c30"><rect x="405.90" y="161.80" width="52.40" height="52.20"/></clipPath>
<g clip-path="url(#c30)">
<path d="M404.90 212.60 L425.50 212.60 L425.50 212.50 L426.50 204.00 L427.20 191.00 L428.00 176.00 L429.00 167.00 L430.00 166.50 L430.80 174.00 L431.50 186.00 L432.20 199.00 L433.20 206.00 L434.50 208.00 L435.80 209.00 L437.00 211.00 L438.50 212.50 L438.50 212.60 L459.30 212.60 Z" fill="#9198c6" stroke="#27407a" stroke-width="1.35" stroke-linejoin="round"/>
<path d="M404.90 212.60 L424.50 212.60 L424.50 212.50 L425.50 207.00 L426.30 196.00 L427.00 183.00 L427.80 171.00 L428.80 165.50 L430.00 165.50 L431.00 169.00 L431.80 177.00 L432.60 186.00 L433.50 190.00 L434.30 185.00 L435.00 174.00 L435.80 171.00 L436.60 173.00 L437.40 183.00 L438.20 196.00 L439.20 206.00 L440.20 210.00 L441.50 212.50 L441.50 212.60 L459.30 212.60" fill="none" stroke="#a00f39" stroke-width="2.0" stroke-linejoin="round"/>
</g>
<clipPath id="c31"><rect x="458.30" y="161.80" width="52.00" height="52.20"/></clipPath>
<g clip-path="url(#c31)">
<path d="M457.30 212.60 L476.50 212.60 L476.50 212.50 L477.50 204.00 L478.50 191.00 L479.50 177.00 L480.50 168.00 L481.50 166.50 L482.50 171.00 L483.50 181.00 L484.50 191.00 L485.50 199.00 L486.50 205.00 L487.50 208.00 L488.80 210.00 L490.00 212.50 L490.00 212.60 L511.30 212.60 Z" fill="#9198c6" stroke="#27407a" stroke-width="1.35" stroke-linejoin="round"/>
<path d="M457.30 212.60 L476.00 212.60 L476.00 212.50 L477.20 205.00 L478.20 194.00 L479.20 181.00 L480.20 170.00 L481.20 165.50 L482.20 165.50 L483.20 172.00 L484.20 183.00 L485.20 191.00 L486.00 193.00 L486.80 186.00 L487.60 182.00 L488.50 181.50 L489.30 187.00 L490.00 197.00 L491.00 206.00 L492.00 210.50 L493.50 212.50 L493.50 212.60 L511.30 212.60" fill="none" stroke="#a00f39" stroke-width="2.0" stroke-linejoin="round"/>
</g>
<line x1="301.60" y1="56.60" x2="301.60" y2="214.00" stroke="#000" stroke-width="1.4" stroke-linecap="butt"/>
<line x1="353.90" y1="56.60" x2="353.90" y2="214.00" stroke="#000" stroke-width="1.4" stroke-linecap="butt"/>
<line x1="405.90" y1="56.60" x2="405.90" y2="214.00" stroke="#000" stroke-width="1.4" stroke-linecap="butt"/>
<line x1="458.30" y1="56.60" x2="458.30" y2="214.00" stroke="#000" stroke-width="1.4" stroke-linecap="butt"/>
<line x1="510.30" y1="56.60" x2="510.30" y2="214.00" stroke="#000" stroke-width="1.4" stroke-linecap="butt"/>
<line x1="301.00" y1="57.20" x2="510.90" y2="57.20" stroke="#000" stroke-width="1.4" stroke-linecap="butt"/>
<line x1="301.00" y1="109.50" x2="510.90" y2="109.50" stroke="#000" stroke-width="1.4" stroke-linecap="butt"/>
<line x1="301.00" y1="161.80" x2="510.90" y2="161.80" stroke="#000" stroke-width="1.4" stroke-linecap="butt"/>
<line x1="301.00" y1="213.70" x2="510.90" y2="213.70" stroke="#6a0c2a" stroke-width="1.6" stroke-linecap="butt"/>
<line x1="318.80" y1="78.00" x2="344.00" y2="78.00" stroke="#1a1a1a" stroke-width="1.6" stroke-linecap="butt"/>
<circle cx="319.40" cy="78.00" r="1.35" fill="#1a1a1a"/>
<circle cx="343.40" cy="78.00" r="1.35" fill="#1a1a1a"/>
<line x1="370.80" y1="78.00" x2="396.20" y2="78.00" stroke="#1a1a1a" stroke-width="1.6" stroke-linecap="butt"/>
<circle cx="371.40" cy="78.00" r="1.35" fill="#1a1a1a"/>
<circle cx="395.60" cy="78.00" r="1.35" fill="#1a1a1a"/>
<line x1="423.00" y1="78.00" x2="448.20" y2="78.00" stroke="#1a1a1a" stroke-width="1.6" stroke-linecap="butt"/>
<circle cx="423.60" cy="78.00" r="1.35" fill="#1a1a1a"/>
<circle cx="447.60" cy="78.00" r="1.35" fill="#1a1a1a"/>
<line x1="475.20" y1="78.00" x2="500.50" y2="78.00" stroke="#1a1a1a" stroke-width="1.6" stroke-linecap="butt"/>
<circle cx="475.80" cy="78.00" r="1.35" fill="#1a1a1a"/>
<circle cx="499.90" cy="78.00" r="1.35" fill="#1a1a1a"/>
<line x1="325.20" y1="128.50" x2="353.90" y2="128.50" stroke="#1a1a1a" stroke-width="1.6" stroke-linecap="butt"/>
<circle cx="325.80" cy="128.50" r="1.35" fill="#1a1a1a"/>
<line x1="377.50" y1="128.50" x2="405.90" y2="128.50" stroke="#1a1a1a" stroke-width="1.6" stroke-linecap="butt"/>
<circle cx="378.10" cy="128.50" r="1.35" fill="#1a1a1a"/>
<line x1="430.20" y1="128.50" x2="458.30" y2="128.50" stroke="#1a1a1a" stroke-width="1.6" stroke-linecap="butt"/>
<circle cx="430.80" cy="128.50" r="1.35" fill="#1a1a1a"/>
<line x1="482.20" y1="128.50" x2="510.30" y2="128.50" stroke="#1a1a1a" stroke-width="1.6" stroke-linecap="butt"/>
<circle cx="482.80" cy="128.50" r="1.35" fill="#1a1a1a"/>
<line x1="301.60" y1="174.00" x2="327.50" y2="174.00" stroke="#1a1a1a" stroke-width="1.6" stroke-linecap="butt"/>
<circle cx="326.90" cy="174.00" r="1.35" fill="#1a1a1a"/>
<line x1="353.90" y1="174.00" x2="379.80" y2="174.00" stroke="#1a1a1a" stroke-width="1.6" stroke-linecap="butt"/>
<circle cx="379.20" cy="174.00" r="1.35" fill="#1a1a1a"/>
<line x1="405.90" y1="174.00" x2="427.20" y2="174.00" stroke="#1a1a1a" stroke-width="1.6" stroke-linecap="butt"/>
<circle cx="426.60" cy="174.00" r="1.35" fill="#1a1a1a"/>
<line x1="458.30" y1="174.00" x2="479.50" y2="174.00" stroke="#1a1a1a" stroke-width="1.6" stroke-linecap="butt"/>
<circle cx="478.90" cy="174.00" r="1.35" fill="#1a1a1a"/>
<text x="351.00" y="65.70" font-size="7.3" fill="#1a1a1a" text-anchor="end" style="stroke-width:0.4px">1.9</text>
<text x="403.00" y="65.70" font-size="7.3" fill="#1a1a1a" text-anchor="end" style="stroke-width:0.4px">18.6</text>
<text x="455.40" y="65.70" font-size="7.3" fill="#1a1a1a" text-anchor="end" style="stroke-width:0.4px">69.9</text>
<text x="507.40" y="65.70" font-size="7.3" fill="#1a1a1a" text-anchor="end" style="stroke-width:0.4px">75.6</text>
<text x="351.00" y="118.60" font-size="7.3" fill="#1a1a1a" text-anchor="end" style="stroke-width:0.4px">4.22</text>
<text x="403.00" y="118.60" font-size="7.3" fill="#1a1a1a" text-anchor="end" style="stroke-width:0.4px">22.9</text>
<text x="455.40" y="118.60" font-size="7.3" fill="#1a1a1a" text-anchor="end" style="stroke-width:0.4px">72.9</text>
<text x="507.40" y="118.60" font-size="7.3" fill="#1a1a1a" text-anchor="end" style="stroke-width:0.4px">78.2</text>
<text x="304.40" y="169.90" font-size="7.3" fill="#1a1a1a" style="stroke-width:0.4px">3.96</text>
<text x="356.70" y="169.90" font-size="7.3" fill="#1a1a1a" style="stroke-width:0.4px">7.03</text>
<text x="408.70" y="169.90" font-size="7.3" fill="#1a1a1a" style="stroke-width:0.4px">50.9</text>
<text x="461.10" y="169.90" font-size="7.3" fill="#1a1a1a" style="stroke-width:0.4px">59.2</text>
<text x="10.40" y="249.40" font-size="14.8" fill="#000" font-weight="bold" textLength="9.60" lengthAdjust="spacingAndGlyphs">B</text>
<text x="270.10" y="249.30" font-size="14.5" fill="#000" font-weight="bold" textLength="10.10" lengthAdjust="spacingAndGlyphs">D</text>
<line x1="65.60" y1="266.80" x2="65.60" y2="355.90" stroke="#000" stroke-width="1.8" stroke-linecap="butt"/>
<line x1="61.20" y1="355.00" x2="65.60" y2="355.00" stroke="#000" stroke-width="1.4" stroke-linecap="butt"/>
<text x="57.00" y="358.00" font-size="8.4" fill="#2a2a2a" text-anchor="end">0</text>
<line x1="61.20" y1="333.90" x2="65.60" y2="333.90" stroke="#000" stroke-width="1.4" stroke-linecap="butt"/>
<text x="57.00" y="336.90" font-size="8.4" fill="#2a2a2a" text-anchor="end">25</text>
<line x1="61.20" y1="312.80" x2="65.60" y2="312.80" stroke="#000" stroke-width="1.4" stroke-linecap="butt"/>
<text x="57.00" y="315.80" font-size="8.4" fill="#2a2a2a" text-anchor="end">50</text>
<line x1="61.20" y1="291.70" x2="65.60" y2="291.70" stroke="#000" stroke-width="1.4" stroke-linecap="butt"/>
<text x="57.00" y="294.70" font-size="8.4" fill="#2a2a2a" text-anchor="end">75</text>
<line x1="61.20" y1="270.60" x2="65.60" y2="270.60" stroke="#000" stroke-width="1.4" stroke-linecap="butt"/>
<text x="57.00" y="273.60" font-size="8.4" fill="#2a2a2a" text-anchor="end">100</text>
<line x1="61.50" y1="355.00" x2="235.50" y2="355.00" stroke="#000" stroke-width="1.8" stroke-linecap="butt"/>
<line x1="86.50" y1="355.00" x2="86.50" y2="359.00" stroke="#000" stroke-width="1.4" stroke-linecap="butt"/>
<line x1="129.00" y1="355.00" x2="129.00" y2="359.00" stroke="#000" stroke-width="1.4" stroke-linecap="butt"/>
<line x1="171.30" y1="355.00" x2="171.30" y2="359.00" stroke="#000" stroke-width="1.4" stroke-linecap="butt"/>
<line x1="213.50" y1="355.00" x2="213.50" y2="359.00" stroke="#000" stroke-width="1.4" stroke-linecap="butt"/>
<text x="35.40" y="310.90" font-size="11.3" fill="#2a2a2a" text-anchor="middle" textLength="105.50" lengthAdjust="spacingAndGlyphs" transform="rotate(-90 35.40 310.90)" style="stroke-width:0.1px">Percent CD4<tspan baseline-shift="super" font-size="7.68">+</tspan>CD25<tspan baseline-shift="super" font-size="7.68">+</tspan> cells</text>
<line x1="79.00" y1="349.00" x2="79.00" y2="345.00" stroke="#263f72" stroke-width="1.5" stroke-linecap="butt"/>
<line x1="76.00" y1="349.00" x2="82.00" y2="349.00" stroke="#263f72" stroke-width="1.5" stroke-linecap="butt"/>
<line x1="76.00" y1="345.00" x2="82.00" y2="345.00" stroke="#263f72" stroke-width="1.5" stroke-linecap="butt"/>
<line x1="73.50" y1="347.00" x2="84.50" y2="347.00" stroke="#263f72" stroke-width="1.5" stroke-linecap="butt"/>
<circle cx="74.50" cy="346.00" r="3.3" fill="none" stroke="#263f72" stroke-width="1.7"/>
<circle cx="79.50" cy="347.50" r="3.3" fill="none" stroke="#263f72" stroke-width="1.7"/>
<circle cx="84.00" cy="345.60" r="3.3" fill="none" stroke="#263f72" stroke-width="1.7"/>
<circle cx="79.00" cy="349.60" r="3.3" fill="none" stroke="#263f72" stroke-width="1.7"/>
<line x1="119.70" y1="272.50" x2="119.70" y2="310.00" stroke="#263f72" stroke-width="1.5" stroke-linecap="butt"/>
<line x1="116.70" y1="272.50" x2="122.70" y2="272.50" stroke="#263f72" stroke-width="1.5" stroke-linecap="butt"/>
<line x1="116.70" y1="310.00" x2="122.70" y2="310.00" stroke="#263f72" stroke-width="1.5" stroke-linecap="butt"/>
<line x1="114.20" y1="289.00" x2="125.20" y2="289.00" stroke="#263f72" stroke-width="1.5" stroke-linecap="butt"/>
<circle cx="126.60" cy="272.40" r="3.3" fill="none" stroke="#263f72" stroke-width="1.7"/>
<circle cx="118.00" cy="281.60" r="3.3" fill="none" stroke="#263f72" stroke-width="1.7"/>
<circle cx="120.60" cy="294.60" r="3.3" fill="none" stroke="#263f72" stroke-width="1.7"/>
<circle cx="120.60" cy="310.20" r="3.3" fill="none" stroke="#263f72" stroke-width="1.7"/>
<line x1="163.50" y1="276.00" x2="163.50" y2="300.00" stroke="#263f72" stroke-width="1.5" stroke-linecap="butt"/>
<line x1="160.50" y1="276.00" x2="166.50" y2="276.00" stroke="#263f72" stroke-width="1.5" stroke-linecap="butt"/>
<line x1="160.50" y1="300.00" x2="166.50" y2="300.00" stroke="#263f72" stroke-width="1.5" stroke-linecap="butt"/>
<line x1="158.00" y1="288.50" x2="169.00" y2="288.50" stroke="#263f72" stroke-width="1.5" stroke-linecap="butt"/>
<circle cx="163.50" cy="273.60" r="3.3" fill="none" stroke="#263f72" stroke-width="1.7"/>
<circle cx="157.80" cy="283.90" r="3.3" fill="none" stroke="#263f72" stroke-width="1.7"/>
<circle cx="166.00" cy="291.20" r="3.3" fill="none" stroke="#263f72" stroke-width="1.7"/>
<circle cx="163.50" cy="305.30" r="3.3" fill="none" stroke="#263f72" stroke-width="1.7"/>
<line x1="205.70" y1="277.00" x2="205.70" y2="294.00" stroke="#263f72" stroke-width="1.5" stroke-linecap="butt"/>
<line x1="202.70" y1="277.00" x2="208.70" y2="277.00" stroke="#263f72" stroke-width="1.5" stroke-linecap="butt"/>
<line x1="202.70" y1="294.00" x2="208.70" y2="294.00" stroke="#263f72" stroke-width="1.5" stroke-linecap="butt"/>
<line x1="200.20" y1="285.60" x2="211.20" y2="285.60" stroke="#263f72" stroke-width="1.5" stroke-linecap="butt"/>
<circle cx="205.70" cy="275.20" r="3.3" fill="none" stroke="#263f72" stroke-width="1.7"/>
<circle cx="211.00" cy="286.30" r="3.3" fill="none" stroke="#263f72" stroke-width="1.7"/>
<circle cx="202.80" cy="293.70" r="3.3" fill="none" stroke="#263f72" stroke-width="1.7"/>
<line x1="95.00" y1="349.00" x2="95.00" y2="353.00" stroke="#a3113b" stroke-width="1.5" stroke-linecap="butt"/>
<line x1="92.00" y1="349.00" x2="98.00" y2="349.00" stroke="#a3113b" stroke-width="1.5" stroke-linecap="butt"/>
<line x1="92.00" y1="353.00" x2="98.00" y2="353.00" stroke="#a3113b" stroke-width="1.5" stroke-linecap="butt"/>
<line x1="89.50" y1="351.00" x2="100.50" y2="351.00" stroke="#a3113b" stroke-width="1.5" stroke-linecap="butt"/>
<path d="M91.50 346.57 L95.20 352.49 L87.80 352.49 Z" fill="none" stroke="#a3113b" stroke-width="1.7" stroke-linejoin="miter"/>
<path d="M95.50 344.17 L99.20 350.09 L91.80 350.09 Z" fill="none" stroke="#a3113b" stroke-width="1.7" stroke-linejoin="miter"/>
<path d="M99.60 343.17 L103.30 349.09 L95.90 349.09 Z" fill="none" stroke="#a3113b" stroke-width="1.7" stroke-linejoin="miter"/>
<path d="M93.00 349.17 L96.70 355.09 L89.30 355.09 Z" fill="none" stroke="#a3113b" stroke-width="1.7" stroke-linejoin="miter"/>
<path d="M97.50 348.17 L101.20 354.09 L93.80 354.09 Z" fill="none" stroke="#a3113b" stroke-width="1.7" stroke-linejoin="miter"/>
<line x1="137.00" y1="294.60" x2="137.00" y2="344.80" stroke="#a3113b" stroke-width="1.5" stroke-linecap="butt"/>
<line x1="134.00" y1="294.60" x2="140.00" y2="294.60" stroke="#a3113b" stroke-width="1.5" stroke-linecap="butt"/>
<line x1="134.00" y1="344.80" x2="140.00" y2="344.80" stroke="#a3113b" stroke-width="1.5" stroke-linecap="butt"/>
<line x1="131.50" y1="319.70" x2="142.50" y2="319.70" stroke="#a3113b" stroke-width="1.5" stroke-linecap="butt"/>
<path d="M137.00 272.97 L140.70 278.89 L133.30 278.89 Z" fill="none" stroke="#a3113b" stroke-width="1.7" stroke-linejoin="miter"/>
<path d="M137.00 303.27 L140.70 309.19 L133.30 309.19 Z" fill="none" stroke="#a3113b" stroke-width="1.7" stroke-linejoin="miter"/>
<path d="M131.00 321.57 L134.70 327.49 L127.30 327.49 Z" fill="none" stroke="#a3113b" stroke-width="1.7" stroke-linejoin="miter"/>
<path d="M139.60 324.97 L143.30 330.89 L135.90 330.89 Z" fill="none" stroke="#a3113b" stroke-width="1.7" stroke-linejoin="miter"/>
<path d="M142.20 336.17 L145.90 342.09 L138.50 342.09 Z" fill="none" stroke="#a3113b" stroke-width="1.7" stroke-linejoin="miter"/>
<path d="M134.40 341.37 L138.10 347.29 L130.70 347.29 Z" fill="none" stroke="#a3113b" stroke-width="1.7" stroke-linejoin="miter"/>
<line x1="179.00" y1="286.00" x2="179.00" y2="298.00" stroke="#a3113b" stroke-width="1.5" stroke-linecap="butt"/>
<line x1="176.00" y1="286.00" x2="182.00" y2="286.00" stroke="#a3113b" stroke-width="1.5" stroke-linecap="butt"/>
<line x1="176.00" y1="298.00" x2="182.00" y2="298.00" stroke="#a3113b" stroke-width="1.5" stroke-linecap="butt"/>
<line x1="173.50" y1="292.00" x2="184.50" y2="292.00" stroke="#a3113b" stroke-width="1.5" stroke-linecap="butt"/>
<path d="M184.60 271.27 L188.30 277.19 L180.90 277.19 Z" fill="none" stroke="#a3113b" stroke-width="1.7" stroke-linejoin="miter"/>
<path d="M176.80 280.77 L180.50 286.69 L173.10 286.69 Z" fill="none" stroke="#a3113b" stroke-width="1.7" stroke-linejoin="miter"/>
<path d="M179.00 287.57 L182.70 293.49 L175.30 293.49 Z" fill="none" stroke="#a3113b" stroke-width="1.7" stroke-linejoin="miter"/>
<path d="M178.60 291.17 L182.30 297.09 L174.90 297.09 Z" fill="none" stroke="#a3113b" stroke-width="1.7" stroke-linejoin="miter"/>
<path d="M178.60 294.57 L182.30 300.49 L174.90 300.49 Z" fill="none" stroke="#a3113b" stroke-width="1.7" stroke-linejoin="miter"/>
<path d="M179.00 303.27 L182.70 309.19 L175.30 309.19 Z" fill="none" stroke="#a3113b" stroke-width="1.7" stroke-linejoin="miter"/>
<line x1="221.00" y1="284.00" x2="221.00" y2="293.00" stroke="#a3113b" stroke-width="1.5" stroke-linecap="butt"/>
<line x1="218.00" y1="284.00" x2="224.00" y2="284.00" stroke="#a3113b" stroke-width="1.5" stroke-linecap="butt"/>
<line x1="218.00" y1="293.00" x2="224.00" y2="293.00" stroke="#a3113b" stroke-width="1.5" stroke-linecap="butt"/>
<line x1="215.50" y1="288.60" x2="226.50" y2="288.60" stroke="#a3113b" stroke-width="1.5" stroke-linecap="butt"/>
<path d="M215.80 273.87 L219.50 279.79 L212.10 279.79 Z" fill="none" stroke="#a3113b" stroke-width="1.7" stroke-linejoin="miter"/>
<path d="M224.40 280.77 L228.10 286.69 L220.70 286.69 Z" fill="none" stroke="#a3113b" stroke-width="1.7" stroke-linejoin="miter"/>
<path d="M220.00 285.97 L223.70 291.89 L216.30 291.89 Z" fill="none" stroke="#a3113b" stroke-width="1.7" stroke-linejoin="miter"/>
<path d="M221.00 290.27 L224.70 296.19 L217.30 296.19 Z" fill="none" stroke="#a3113b" stroke-width="1.7" stroke-linejoin="miter"/>
<path d="M221.80 294.57 L225.50 300.49 L218.10 300.49 Z" fill="none" stroke="#a3113b" stroke-width="1.7" stroke-linejoin="miter"/>
<circle cx="73.80" cy="274.30" r="3.3" fill="none" stroke="#263f72" stroke-width="1.7"/>
<text x="82.30" y="277.40" font-size="8.8" fill="#231f20" textLength="29.60" lengthAdjust="spacingAndGlyphs">Control</text>
<path d="M73.80 285.37 L77.50 291.29 L70.10 291.29 Z" fill="none" stroke="#a3113b" stroke-width="1.7" stroke-linejoin="miter"/>
<text x="82.30" y="291.40" font-size="8.8" fill="#231f20" textLength="28.00" lengthAdjust="spacingAndGlyphs">Patient</text>
<line x1="65.60" y1="385.90" x2="65.60" y2="475.60" stroke="#000" stroke-width="1.8" stroke-linecap="butt"/>
<line x1="61.20" y1="474.70" x2="65.60" y2="474.70" stroke="#000" stroke-width="1.4" stroke-linecap="butt"/>
<text x="57.00" y="477.70" font-size="8.4" fill="#2a2a2a" text-anchor="end">0</text>
<line x1="61.20" y1="453.50" x2="65.60" y2="453.50" stroke="#000" stroke-width="1.4" stroke-linecap="butt"/>
<text x="57.00" y="456.50" font-size="8.4" fill="#2a2a2a" text-anchor="end">25</text>
<line x1="61.20" y1="432.30" x2="65.60" y2="432.30" stroke="#000" stroke-width="1.4" stroke-linecap="butt"/>
<text x="57.00" y="435.30" font-size="8.4" fill="#2a2a2a" text-anchor="end">50</text>
<line x1="61.20" y1="411.10" x2="65.60" y2="411.10" stroke="#000" stroke-width="1.4" stroke-linecap="butt"/>
<text x="57.00" y="414.10" font-size="8.4" fill="#2a2a2a" text-anchor="end">75</text>
<line x1="61.20" y1="389.90" x2="65.60" y2="389.90" stroke="#000" stroke-width="1.4" stroke-linecap="butt"/>
<text x="57.00" y="392.90" font-size="8.4" fill="#2a2a2a" text-anchor="end">100</text>
<line x1="61.50" y1="474.70" x2="235.50" y2="474.70" stroke="#000" stroke-width="1.8" stroke-linecap="butt"/>
<line x1="86.50" y1="474.70" x2="86.50" y2="478.70" stroke="#000" stroke-width="1.4" stroke-linecap="butt"/>
<line x1="129.00" y1="474.70" x2="129.00" y2="478.70" stroke="#000" stroke-width="1.4" stroke-linecap="butt"/>
<line x1="171.30" y1="474.70" x2="171.30" y2="478.70" stroke="#000" stroke-width="1.4" stroke-linecap="butt"/>
<line x1="213.50" y1="474.70" x2="213.50" y2="478.70" stroke="#000" stroke-width="1.4" stroke-linecap="butt"/>
<text x="35.30" y="430.30" font-size="11.3" fill="#2a2a2a" text-anchor="middle" textLength="106.00" lengthAdjust="spacingAndGlyphs" transform="rotate(-90 35.30 430.30)" style="stroke-width:0.1px">Percent CD4<tspan baseline-shift="super" font-size="7.68">+</tspan>Ki-67<tspan baseline-shift="super" font-size="7.68">+</tspan> cells</text>
<line x1="79.00" y1="472.00" x2="79.00" y2="474.00" stroke="#263f72" stroke-width="1.5" stroke-linecap="butt"/>
<line x1="76.00" y1="472.00" x2="82.00" y2="472.00" stroke="#263f72" stroke-width="1.5" stroke-linecap="butt"/>
<line x1="76.00" y1="474.00" x2="82.00" y2="474.00" stroke="#263f72" stroke-width="1.5" stroke-linecap="butt"/>
<line x1="73.50" y1="473.00" x2="84.50" y2="473.00" stroke="#263f72" stroke-width="1.5" stroke-linecap="butt"/>
<circle cx="73.00" cy="473.00" r="3.3" fill="none" stroke="#263f72" stroke-width="1.7"/>
<circle cx="77.50" cy="474.00" r="3.3" fill="none" stroke="#263f72" stroke-width="1.7"/>
<circle cx="81.50" cy="474.00" r="3.3" fill="none" stroke="#263f72" stroke-width="1.7"/>
<circle cx="85.00" cy="472.50" r="3.3" fill="none" stroke="#263f72" stroke-width="1.7"/>
<line x1="121.00" y1="396.00" x2="121.00" y2="422.00" stroke="#263f72" stroke-width="1.5" stroke-linecap="butt"/>
<line x1="118.00" y1="396.00" x2="124.00" y2="396.00" stroke="#263f72" stroke-width="1.5" stroke-linecap="butt"/>
<line x1="118.00" y1="422.00" x2="124.00" y2="422.00" stroke="#263f72" stroke-width="1.5" stroke-linecap="butt"/>
<line x1="115.50" y1="408.30" x2="126.50" y2="408.30" stroke="#263f72" stroke-width="1.5" stroke-linecap="butt"/>
<circle cx="121.00" cy="395.60" r="3.3" fill="none" stroke="#263f72" stroke-width="1.7"/>
<circle cx="116.20" cy="408.30" r="3.3" fill="none" stroke="#263f72" stroke-width="1.7"/>
<circle cx="124.20" cy="408.30" r="3.3" fill="none" stroke="#263f72" stroke-width="1.7"/>
<circle cx="121.00" cy="423.00" r="3.3" fill="none" stroke="#263f72" stroke-width="1.7"/>
<line x1="163.30" y1="406.00" x2="163.30" y2="420.00" stroke="#263f72" stroke-width="1.5" stroke-linecap="butt"/>
<line x1="160.30" y1="406.00" x2="166.30" y2="406.00" stroke="#263f72" stroke-width="1.5" stroke-linecap="butt"/>
<line x1="160.30" y1="420.00" x2="166.30" y2="420.00" stroke="#263f72" stroke-width="1.5" stroke-linecap="butt"/>
<line x1="157.80" y1="413.00" x2="168.80" y2="413.00" stroke="#263f72" stroke-width="1.5" stroke-linecap="butt"/>
<circle cx="163.30" cy="408.30" r="3.3" fill="none" stroke="#263f72" stroke-width="1.7"/>
<circle cx="163.30" cy="412.30" r="3.3" fill="none" stroke="#263f72" stroke-width="1.7"/>
<circle cx="163.30" cy="416.30" r="3.3" fill="none" stroke="#263f72" stroke-width="1.7"/>
<circle cx="163.30" cy="423.60" r="3.3" fill="none" stroke="#263f72" stroke-width="1.7"/>
<line x1="205.00" y1="406.00" x2="205.00" y2="416.00" stroke="#263f72" stroke-width="1.5" stroke-linecap="butt"/>
<line x1="202.00" y1="406.00" x2="208.00" y2="406.00" stroke="#263f72" stroke-width="1.5" stroke-linecap="butt"/>
<line x1="202.00" y1="416.00" x2="208.00" y2="416.00" stroke="#263f72" stroke-width="1.5" stroke-linecap="butt"/>
<line x1="199.50" y1="411.80" x2="210.50" y2="411.80" stroke="#263f72" stroke-width="1.5" stroke-linecap="butt"/>
<circle cx="205.00" cy="404.80" r="3.3" fill="none" stroke="#263f72" stroke-width="1.7"/>
<circle cx="202.30" cy="416.30" r="3.3" fill="none" stroke="#263f72" stroke-width="1.7"/>
<circle cx="210.40" cy="413.70" r="3.3" fill="none" stroke="#263f72" stroke-width="1.7"/>
<line x1="95.00" y1="465.00" x2="95.00" y2="473.00" stroke="#a3113b" stroke-width="1.5" stroke-linecap="butt"/>
<line x1="92.00" y1="465.00" x2="98.00" y2="465.00" stroke="#a3113b" stroke-width="1.5" stroke-linecap="butt"/>
<line x1="92.00" y1="473.00" x2="98.00" y2="473.00" stroke="#a3113b" stroke-width="1.5" stroke-linecap="butt"/>
<line x1="89.50" y1="469.00" x2="100.50" y2="469.00" stroke="#a3113b" stroke-width="1.5" stroke-linecap="butt"/>
<path d="M95.00 459.57 L98.70 465.49 L91.30 465.49 Z" fill="none" stroke="#a3113b" stroke-width="1.7" stroke-linejoin="miter"/>
<path d="M95.00 462.57 L98.70 468.49 L91.30 468.49 Z" fill="none" stroke="#a3113b" stroke-width="1.7" stroke-linejoin="miter"/>
<path d="M95.00 466.07 L98.70 471.99 L91.30 471.99 Z" fill="none" stroke="#a3113b" stroke-width="1.7" stroke-linejoin="miter"/>
<path d="M95.00 469.07 L98.70 474.99 L91.30 474.99 Z" fill="none" stroke="#a3113b" stroke-width="1.7" stroke-linejoin="miter"/>
<line x1="137.20" y1="421.00" x2="137.20" y2="458.00" stroke="#a3113b" stroke-width="1.5" stroke-linecap="butt"/>
<line x1="134.20" y1="421.00" x2="140.20" y2="421.00" stroke="#a3113b" stroke-width="1.5" stroke-linecap="butt"/>
<line x1="134.20" y1="458.00" x2="140.20" y2="458.00" stroke="#a3113b" stroke-width="1.5" stroke-linecap="butt"/>
<line x1="131.70" y1="440.60" x2="142.70" y2="440.60" stroke="#a3113b" stroke-width="1.5" stroke-linecap="butt"/>
<path d="M137.20 402.17 L140.90 408.09 L133.50 408.09 Z" fill="none" stroke="#a3113b" stroke-width="1.7" stroke-linejoin="miter"/>
<path d="M137.20 431.77 L140.90 437.69 L133.50 437.69 Z" fill="none" stroke="#a3113b" stroke-width="1.7" stroke-linejoin="miter"/>
<path d="M132.30 440.37 L136.00 446.29 L128.60 446.29 Z" fill="none" stroke="#a3113b" stroke-width="1.7" stroke-linejoin="miter"/>
<path d="M139.80 445.27 L143.50 451.19 L136.10 451.19 Z" fill="none" stroke="#a3113b" stroke-width="1.7" stroke-linejoin="miter"/>
<path d="M143.10 452.57 L146.80 458.49 L139.40 458.49 Z" fill="none" stroke="#a3113b" stroke-width="1.7" stroke-linejoin="miter"/>
<path d="M134.50 455.97 L138.20 461.89 L130.80 461.89 Z" fill="none" stroke="#a3113b" stroke-width="1.7" stroke-linejoin="miter"/>
<line x1="178.60" y1="403.00" x2="178.60" y2="414.00" stroke="#a3113b" stroke-width="1.5" stroke-linecap="butt"/>
<line x1="175.60" y1="403.00" x2="181.60" y2="403.00" stroke="#a3113b" stroke-width="1.5" stroke-linecap="butt"/>
<line x1="175.60" y1="414.00" x2="181.60" y2="414.00" stroke="#a3113b" stroke-width="1.5" stroke-linecap="butt"/>
<line x1="173.10" y1="408.50" x2="184.10" y2="408.50" stroke="#a3113b" stroke-width="1.5" stroke-linecap="butt"/>
<path d="M178.60 396.77 L182.30 402.69 L174.90 402.69 Z" fill="none" stroke="#a3113b" stroke-width="1.7" stroke-linejoin="miter"/>
<path d="M178.60 400.77 L182.30 406.69 L174.90 406.69 Z" fill="none" stroke="#a3113b" stroke-width="1.7" stroke-linejoin="miter"/>
<path d="M178.60 403.57 L182.30 409.49 L174.90 409.49 Z" fill="none" stroke="#a3113b" stroke-width="1.7" stroke-linejoin="miter"/>
<path d="M178.60 408.87 L182.30 414.79 L174.90 414.79 Z" fill="none" stroke="#a3113b" stroke-width="1.7" stroke-linejoin="miter"/>
<path d="M178.60 418.27 L182.30 424.19 L174.90 424.19 Z" fill="none" stroke="#a3113b" stroke-width="1.7" stroke-linejoin="miter"/>
<line x1="221.70" y1="399.00" x2="221.70" y2="410.00" stroke="#a3113b" stroke-width="1.5" stroke-linecap="butt"/>
<line x1="218.70" y1="399.00" x2="224.70" y2="399.00" stroke="#a3113b" stroke-width="1.5" stroke-linecap="butt"/>
<line x1="218.70" y1="410.00" x2="224.70" y2="410.00" stroke="#a3113b" stroke-width="1.5" stroke-linecap="butt"/>
<line x1="216.20" y1="405.00" x2="227.20" y2="405.00" stroke="#a3113b" stroke-width="1.5" stroke-linecap="butt"/>
<path d="M221.70 394.07 L225.40 399.99 L218.00 399.99 Z" fill="none" stroke="#a3113b" stroke-width="1.7" stroke-linejoin="miter"/>
<path d="M221.70 398.07 L225.40 403.99 L218.00 403.99 Z" fill="none" stroke="#a3113b" stroke-width="1.7" stroke-linejoin="miter"/>
<path d="M218.50 408.87 L222.20 414.79 L214.80 414.79 Z" fill="none" stroke="#a3113b" stroke-width="1.7" stroke-linejoin="miter"/>
<path d="M226.50 404.87 L230.20 410.79 L222.80 410.79 Z" fill="none" stroke="#a3113b" stroke-width="1.7" stroke-linejoin="miter"/>
<line x1="77.60" y1="388.20" x2="94.90" y2="388.20" stroke="#1a1a1a" stroke-width="1.2" stroke-linecap="butt"/>
<circle cx="86.25" cy="382.10" r="1.0" fill="#2a2a2a"/>
<line x1="65.60" y1="503.00" x2="65.60" y2="592.10" stroke="#000" stroke-width="1.8" stroke-linecap="butt"/>
<line x1="61.20" y1="591.20" x2="65.60" y2="591.20" stroke="#000" stroke-width="1.4" stroke-linecap="butt"/>
<text x="57.00" y="594.20" font-size="8.4" fill="#2a2a2a" text-anchor="end">0</text>
<line x1="61.20" y1="570.10" x2="65.60" y2="570.10" stroke="#000" stroke-width="1.4" stroke-linecap="butt"/>
<text x="57.00" y="573.10" font-size="8.4" fill="#2a2a2a" text-anchor="end">25</text>
<line x1="61.20" y1="549.00" x2="65.60" y2="549.00" stroke="#000" stroke-width="1.4" stroke-linecap="butt"/>
<text x="57.00" y="552.00" font-size="8.4" fill="#2a2a2a" text-anchor="end">50</text>
<line x1="61.20" y1="527.90" x2="65.60" y2="527.90" stroke="#000" stroke-width="1.4" stroke-linecap="butt"/>
<text x="57.00" y="530.90" font-size="8.4" fill="#2a2a2a" text-anchor="end">75</text>
<line x1="61.20" y1="506.80" x2="65.60" y2="506.80" stroke="#000" stroke-width="1.4" stroke-linecap="butt"/>
<text x="57.00" y="509.80" font-size="8.4" fill="#2a2a2a" text-anchor="end">100</text>
<line x1="61.50" y1="591.20" x2="235.50" y2="591.20" stroke="#000" stroke-width="1.8" stroke-linecap="butt"/>
<line x1="86.50" y1="591.20" x2="86.50" y2="595.20" stroke="#000" stroke-width="1.4" stroke-linecap="butt"/>
<line x1="129.00" y1="591.20" x2="129.00" y2="595.20" stroke="#000" stroke-width="1.4" stroke-linecap="butt"/>
<line x1="171.30" y1="591.20" x2="171.30" y2="595.20" stroke="#000" stroke-width="1.4" stroke-linecap="butt"/>
<line x1="213.50" y1="591.20" x2="213.50" y2="595.20" stroke="#000" stroke-width="1.4" stroke-linecap="butt"/>
<text x="37.00" y="549.30" font-size="11.3" fill="#2a2a2a" text-anchor="middle" textLength="107.00" lengthAdjust="spacingAndGlyphs" transform="rotate(-90 37.00 549.30)" style="stroke-width:0.1px">Percent CD4<tspan baseline-shift="super" font-size="7.68">+</tspan>CFSE<tspan baseline-shift="super" font-size="7.68">lo</tspan> cells</text>
<circle cx="78.80" cy="590.60" r="3.6" fill="#2d528f" stroke="#263f72" stroke-width="1.2"/>
<line x1="121.00" y1="519.00" x2="121.00" y2="536.00" stroke="#263f72" stroke-width="1.5" stroke-linecap="butt"/>
<line x1="118.00" y1="519.00" x2="124.00" y2="519.00" stroke="#263f72" stroke-width="1.5" stroke-linecap="butt"/>
<line x1="118.00" y1="536.00" x2="124.00" y2="536.00" stroke="#263f72" stroke-width="1.5" stroke-linecap="butt"/>
<line x1="115.50" y1="526.80" x2="126.50" y2="526.80" stroke="#263f72" stroke-width="1.5" stroke-linecap="butt"/>
<circle cx="115.60" cy="519.80" r="3.3" fill="none" stroke="#263f72" stroke-width="1.7"/>
<circle cx="121.50" cy="518.70" r="3.3" fill="none" stroke="#263f72" stroke-width="1.7"/>
<circle cx="124.20" cy="528.70" r="3.3" fill="none" stroke="#263f72" stroke-width="1.7"/>
<circle cx="121.00" cy="542.10" r="3.3" fill="none" stroke="#263f72" stroke-width="1.7"/>
<line x1="164.00" y1="525.00" x2="164.00" y2="538.00" stroke="#263f72" stroke-width="1.5" stroke-linecap="butt"/>
<line x1="161.00" y1="525.00" x2="167.00" y2="525.00" stroke="#263f72" stroke-width="1.5" stroke-linecap="butt"/>
<line x1="161.00" y1="538.00" x2="167.00" y2="538.00" stroke="#263f72" stroke-width="1.5" stroke-linecap="butt"/>
<line x1="158.50" y1="531.30" x2="169.50" y2="531.30" stroke="#263f72" stroke-width="1.5" stroke-linecap="butt"/>
<circle cx="157.90" cy="523.30" r="3.3" fill="none" stroke="#263f72" stroke-width="1.7"/>
<circle cx="164.60" cy="528.70" r="3.3" fill="none" stroke="#263f72" stroke-width="1.7"/>
<circle cx="169.50" cy="535.40" r="3.3" fill="none" stroke="#263f72" stroke-width="1.7"/>
<circle cx="160.60" cy="540.80" r="3.3" fill="none" stroke="#263f72" stroke-width="1.7"/>
<line x1="205.00" y1="522.00" x2="205.00" y2="532.00" stroke="#263f72" stroke-width="1.5" stroke-linecap="butt"/>
<line x1="202.00" y1="522.00" x2="208.00" y2="522.00" stroke="#263f72" stroke-width="1.5" stroke-linecap="butt"/>
<line x1="202.00" y1="532.00" x2="208.00" y2="532.00" stroke="#263f72" stroke-width="1.5" stroke-linecap="butt"/>
<line x1="199.50" y1="527.00" x2="210.50" y2="527.00" stroke="#263f72" stroke-width="1.5" stroke-linecap="butt"/>
<circle cx="205.50" cy="521.90" r="3.3" fill="none" stroke="#263f72" stroke-width="1.7"/>
<circle cx="201.80" cy="532.70" r="3.3" fill="none" stroke="#263f72" stroke-width="1.7"/>
<circle cx="210.40" cy="528.70" r="3.3" fill="none" stroke="#263f72" stroke-width="1.7"/>
<line x1="95.00" y1="566.20" x2="95.00" y2="591.00" stroke="#a3113b" stroke-width="1.5" stroke-linecap="butt"/>
<line x1="92.00" y1="566.20" x2="98.00" y2="566.20" stroke="#a3113b" stroke-width="1.5" stroke-linecap="butt"/>
<line x1="92.00" y1="591.00" x2="98.00" y2="591.00" stroke="#a3113b" stroke-width="1.5" stroke-linecap="butt"/>
<line x1="89.50" y1="579.00" x2="100.50" y2="579.00" stroke="#a3113b" stroke-width="1.5" stroke-linecap="butt"/>
<path d="M94.90 553.17 L98.60 559.09 L91.20 559.09 Z" fill="none" stroke="#a3113b" stroke-width="1.7" stroke-linejoin="miter"/>
<path d="M94.90 573.07 L98.60 578.99 L91.20 578.99 Z" fill="none" stroke="#a3113b" stroke-width="1.7" stroke-linejoin="miter"/>
<path d="M100.60 577.47 L104.30 583.39 L96.90 583.39 Z" fill="none" stroke="#a3113b" stroke-width="1.7" stroke-linejoin="miter"/>
<path d="M89.70 584.37 L93.40 590.29 L86.00 590.29 Z" fill="none" stroke="#a3113b" stroke-width="1.7" stroke-linejoin="miter"/>
<path d="M95.80 585.17 L99.50 591.09 L92.10 591.09 Z" fill="none" stroke="#a3113b" stroke-width="1.7" stroke-linejoin="miter"/>
<line x1="137.70" y1="550.00" x2="137.70" y2="573.00" stroke="#a3113b" stroke-width="1.5" stroke-linecap="butt"/>
<line x1="134.70" y1="550.00" x2="140.70" y2="550.00" stroke="#a3113b" stroke-width="1.5" stroke-linecap="butt"/>
<line x1="134.70" y1="573.00" x2="140.70" y2="573.00" stroke="#a3113b" stroke-width="1.5" stroke-linecap="butt"/>
<line x1="132.20" y1="561.80" x2="143.20" y2="561.80" stroke="#a3113b" stroke-width="1.5" stroke-linecap="butt"/>
<path d="M131.80 544.07 L135.50 549.99 L128.10 549.99 Z" fill="none" stroke="#a3113b" stroke-width="1.7" stroke-linejoin="miter"/>
<path d="M139.80 552.97 L143.50 558.89 L136.10 558.89 Z" fill="none" stroke="#a3113b" stroke-width="1.7" stroke-linejoin="miter"/>
<path d="M142.50 561.07 L146.20 566.99 L138.80 566.99 Z" fill="none" stroke="#a3113b" stroke-width="1.7" stroke-linejoin="miter"/>
<path d="M132.30 565.57 L136.00 571.49 L128.60 571.49 Z" fill="none" stroke="#a3113b" stroke-width="1.7" stroke-linejoin="miter"/>
<path d="M137.70 566.97 L141.40 572.89 L134.00 572.89 Z" fill="none" stroke="#a3113b" stroke-width="1.7" stroke-linejoin="miter"/>
<path d="M134.50 566.57 L138.20 572.49 L130.80 572.49 Z" fill="none" stroke="#a3113b" stroke-width="1.7" stroke-linejoin="miter"/>
<line x1="178.00" y1="522.00" x2="178.00" y2="534.00" stroke="#a3113b" stroke-width="1.5" stroke-linecap="butt"/>
<line x1="175.00" y1="522.00" x2="181.00" y2="522.00" stroke="#a3113b" stroke-width="1.5" stroke-linecap="butt"/>
<line x1="175.00" y1="534.00" x2="181.00" y2="534.00" stroke="#a3113b" stroke-width="1.5" stroke-linecap="butt"/>
<line x1="172.50" y1="528.00" x2="183.50" y2="528.00" stroke="#a3113b" stroke-width="1.5" stroke-linecap="butt"/>
<path d="M174.00 514.47 L177.70 520.39 L170.30 520.39 Z" fill="none" stroke="#a3113b" stroke-width="1.7" stroke-linejoin="miter"/>
<path d="M182.10 517.17 L185.80 523.09 L178.40 523.09 Z" fill="none" stroke="#a3113b" stroke-width="1.7" stroke-linejoin="miter"/>
<path d="M172.70 525.27 L176.40 531.19 L169.00 531.19 Z" fill="none" stroke="#a3113b" stroke-width="1.7" stroke-linejoin="miter"/>
<path d="M184.80 523.87 L188.50 529.79 L181.10 529.79 Z" fill="none" stroke="#a3113b" stroke-width="1.7" stroke-linejoin="miter"/>
<path d="M178.00 533.27 L181.70 539.19 L174.30 539.19 Z" fill="none" stroke="#a3113b" stroke-width="1.7" stroke-linejoin="miter"/>
<line x1="221.20" y1="517.00" x2="221.20" y2="524.00" stroke="#a3113b" stroke-width="1.5" stroke-linecap="butt"/>
<line x1="218.20" y1="517.00" x2="224.20" y2="517.00" stroke="#a3113b" stroke-width="1.5" stroke-linecap="butt"/>
<line x1="218.20" y1="524.00" x2="224.20" y2="524.00" stroke="#a3113b" stroke-width="1.5" stroke-linecap="butt"/>
<line x1="215.70" y1="520.50" x2="226.70" y2="520.50" stroke="#a3113b" stroke-width="1.5" stroke-linecap="butt"/>
<path d="M221.20 513.07 L224.90 518.99 L217.50 518.99 Z" fill="none" stroke="#a3113b" stroke-width="1.7" stroke-linejoin="miter"/>
<path d="M215.80 517.17 L219.50 523.09 L212.10 523.09 Z" fill="none" stroke="#a3113b" stroke-width="1.7" stroke-linejoin="miter"/>
<path d="M226.50 517.17 L230.20 523.09 L222.80 523.09 Z" fill="none" stroke="#a3113b" stroke-width="1.7" stroke-linejoin="miter"/>
<path d="M221.20 521.17 L224.90 527.09 L217.50 527.09 Z" fill="none" stroke="#a3113b" stroke-width="1.7" stroke-linejoin="miter"/>
<line x1="77.60" y1="506.80" x2="94.90" y2="506.80" stroke="#1a1a1a" stroke-width="1.2" stroke-linecap="butt"/>
<circle cx="86.25" cy="500.70" r="1.0" fill="#2a2a2a"/>
<line x1="124.20" y1="506.60" x2="141.70" y2="506.60" stroke="#1a1a1a" stroke-width="1.2" stroke-linecap="butt"/>
<circle cx="131.10" cy="500.50" r="1.0" fill="#2a2a2a"/>
<circle cx="134.80" cy="500.50" r="1.0" fill="#2a2a2a"/>
<text x="86.50" y="607.60" font-size="9.0" fill="#231f20" text-anchor="middle" textLength="26.70" lengthAdjust="spacingAndGlyphs">unstim</text>
<text x="129.00" y="607.90" font-size="9.2" fill="#231f20" text-anchor="middle" textLength="17.00" lengthAdjust="spacingAndGlyphs">PHA</text>
<text x="171.30" y="608.00" font-size="9.0" fill="#231f20" text-anchor="middle" textLength="23.70" lengthAdjust="spacingAndGlyphs">αCD3</text>
<text x="213.50" y="608.00" font-size="9.0" fill="#231f20" text-anchor="middle" textLength="55.00" lengthAdjust="spacingAndGlyphs">αCD3/αCD28</text>
<line x1="323.70" y1="266.70" x2="323.70" y2="356.40" stroke="#000" stroke-width="1.8" stroke-linecap="butt"/>
<line x1="319.30" y1="355.50" x2="323.70" y2="355.50" stroke="#000" stroke-width="1.4" stroke-linecap="butt"/>
<text x="315.40" y="358.50" font-size="8.4" fill="#2a2a2a" text-anchor="end">0</text>
<line x1="319.30" y1="334.32" x2="323.70" y2="334.32" stroke="#000" stroke-width="1.4" stroke-linecap="butt"/>
<text x="315.40" y="337.32" font-size="8.4" fill="#2a2a2a" text-anchor="end">25</text>
<line x1="319.30" y1="313.15" x2="323.70" y2="313.15" stroke="#000" stroke-width="1.4" stroke-linecap="butt"/>
<text x="315.40" y="316.15" font-size="8.4" fill="#2a2a2a" text-anchor="end">50</text>
<line x1="319.30" y1="291.98" x2="323.70" y2="291.98" stroke="#000" stroke-width="1.4" stroke-linecap="butt"/>
<text x="315.40" y="294.98" font-size="8.4" fill="#2a2a2a" text-anchor="end">75</text>
<line x1="319.30" y1="270.80" x2="323.70" y2="270.80" stroke="#000" stroke-width="1.4" stroke-linecap="butt"/>
<text x="315.40" y="273.80" font-size="8.4" fill="#2a2a2a" text-anchor="end">100</text>
<line x1="319.60" y1="355.50" x2="493.50" y2="355.50" stroke="#000" stroke-width="1.8" stroke-linecap="butt"/>
<line x1="344.80" y1="355.50" x2="344.80" y2="359.50" stroke="#000" stroke-width="1.4" stroke-linecap="butt"/>
<line x1="386.90" y1="355.50" x2="386.90" y2="359.50" stroke="#000" stroke-width="1.4" stroke-linecap="butt"/>
<line x1="430.20" y1="355.50" x2="430.20" y2="359.50" stroke="#000" stroke-width="1.4" stroke-linecap="butt"/>
<line x1="471.60" y1="355.50" x2="471.60" y2="359.50" stroke="#000" stroke-width="1.4" stroke-linecap="butt"/>
<text x="294.40" y="311.80" font-size="11.3" fill="#2a2a2a" text-anchor="middle" textLength="106.00" lengthAdjust="spacingAndGlyphs" transform="rotate(-90 294.40 311.80)" style="stroke-width:0.1px">Percent CD8<tspan baseline-shift="super" font-size="7.68">+</tspan>CD25<tspan baseline-shift="super" font-size="7.68">+</tspan> cells</text>
<line x1="336.50" y1="353.00" x2="336.50" y2="354.50" stroke="#263f72" stroke-width="1.5" stroke-linecap="butt"/>
<line x1="333.50" y1="353.00" x2="339.50" y2="353.00" stroke="#263f72" stroke-width="1.5" stroke-linecap="butt"/>
<line x1="333.50" y1="354.50" x2="339.50" y2="354.50" stroke="#263f72" stroke-width="1.5" stroke-linecap="butt"/>
<line x1="331.00" y1="353.70" x2="342.00" y2="353.70" stroke="#263f72" stroke-width="1.5" stroke-linecap="butt"/>
<circle cx="331.00" cy="354.30" r="3.3" fill="none" stroke="#263f72" stroke-width="1.7"/>
<circle cx="335.50" cy="355.00" r="3.3" fill="none" stroke="#263f72" stroke-width="1.7"/>
<circle cx="339.50" cy="354.30" r="3.3" fill="none" stroke="#263f72" stroke-width="1.7"/>
<circle cx="342.00" cy="353.30" r="3.3" fill="none" stroke="#263f72" stroke-width="1.7"/>
<line x1="379.40" y1="277.00" x2="379.40" y2="305.60" stroke="#263f72" stroke-width="1.5" stroke-linecap="butt"/>
<line x1="376.40" y1="277.00" x2="382.40" y2="277.00" stroke="#263f72" stroke-width="1.5" stroke-linecap="butt"/>
<line x1="376.40" y1="305.60" x2="382.40" y2="305.60" stroke="#263f72" stroke-width="1.5" stroke-linecap="butt"/>
<line x1="373.90" y1="292.20" x2="384.90" y2="292.20" stroke="#263f72" stroke-width="1.5" stroke-linecap="butt"/>
<circle cx="373.50" cy="274.40" r="3.3" fill="none" stroke="#263f72" stroke-width="1.7"/>
<circle cx="382.00" cy="283.30" r="3.3" fill="none" stroke="#263f72" stroke-width="1.7"/>
<circle cx="384.20" cy="301.30" r="3.3" fill="none" stroke="#263f72" stroke-width="1.7"/>
<circle cx="375.30" cy="310.20" r="3.3" fill="none" stroke="#263f72" stroke-width="1.7"/>
<line x1="421.00" y1="284.00" x2="421.00" y2="295.00" stroke="#263f72" stroke-width="1.5" stroke-linecap="butt"/>
<line x1="418.00" y1="284.00" x2="424.00" y2="284.00" stroke="#263f72" stroke-width="1.5" stroke-linecap="butt"/>
<line x1="418.00" y1="295.00" x2="424.00" y2="295.00" stroke="#263f72" stroke-width="1.5" stroke-linecap="butt"/>
<line x1="415.50" y1="289.50" x2="426.50" y2="289.50" stroke="#263f72" stroke-width="1.5" stroke-linecap="butt"/>
<circle cx="416.50" cy="281.90" r="3.3" fill="none" stroke="#263f72" stroke-width="1.7"/>
<circle cx="424.60" cy="286.80" r="3.3" fill="none" stroke="#263f72" stroke-width="1.7"/>
<circle cx="426.80" cy="291.30" r="3.3" fill="none" stroke="#263f72" stroke-width="1.7"/>
<circle cx="417.90" cy="297.50" r="3.3" fill="none" stroke="#263f72" stroke-width="1.7"/>
<line x1="463.70" y1="276.00" x2="463.70" y2="282.00" stroke="#263f72" stroke-width="1.5" stroke-linecap="butt"/>
<line x1="460.70" y1="276.00" x2="466.70" y2="276.00" stroke="#263f72" stroke-width="1.5" stroke-linecap="butt"/>
<line x1="460.70" y1="282.00" x2="466.70" y2="282.00" stroke="#263f72" stroke-width="1.5" stroke-linecap="butt"/>
<line x1="458.20" y1="278.70" x2="469.20" y2="278.70" stroke="#263f72" stroke-width="1.5" stroke-linecap="butt"/>
<circle cx="462.90" cy="274.40" r="3.3" fill="none" stroke="#263f72" stroke-width="1.7"/>
<circle cx="468.20" cy="279.80" r="3.3" fill="none" stroke="#263f72" stroke-width="1.7"/>
<circle cx="460.20" cy="284.60" r="3.3" fill="none" stroke="#263f72" stroke-width="1.7"/>
<line x1="352.90" y1="349.00" x2="352.90" y2="354.00" stroke="#a3113b" stroke-width="1.5" stroke-linecap="butt"/>
<line x1="349.90" y1="349.00" x2="355.90" y2="349.00" stroke="#a3113b" stroke-width="1.5" stroke-linecap="butt"/>
<line x1="349.90" y1="354.00" x2="355.90" y2="354.00" stroke="#a3113b" stroke-width="1.5" stroke-linecap="butt"/>
<line x1="347.40" y1="351.50" x2="358.40" y2="351.50" stroke="#a3113b" stroke-width="1.5" stroke-linecap="butt"/>
<path d="M352.90 337.37 L356.60 343.29 L349.20 343.29 Z" fill="none" stroke="#a3113b" stroke-width="1.7" stroke-linejoin="miter"/>
<path d="M352.90 343.57 L356.60 349.49 L349.20 349.49 Z" fill="none" stroke="#a3113b" stroke-width="1.7" stroke-linejoin="miter"/>
<path d="M352.90 347.07 L356.60 352.99 L349.20 352.99 Z" fill="none" stroke="#a3113b" stroke-width="1.7" stroke-linejoin="miter"/>
<path d="M352.90 350.07 L356.60 355.99 L349.20 355.99 Z" fill="none" stroke="#a3113b" stroke-width="1.7" stroke-linejoin="miter"/>
<path d="M352.90 352.17 L356.60 358.09 L349.20 358.09 Z" fill="none" stroke="#a3113b" stroke-width="1.7" stroke-linejoin="miter"/>
<line x1="394.50" y1="308.00" x2="394.50" y2="355.00" stroke="#a3113b" stroke-width="1.5" stroke-linecap="butt"/>
<line x1="391.50" y1="308.00" x2="397.50" y2="308.00" stroke="#a3113b" stroke-width="1.5" stroke-linecap="butt"/>
<line x1="391.50" y1="355.00" x2="397.50" y2="355.00" stroke="#a3113b" stroke-width="1.5" stroke-linecap="butt"/>
<line x1="389.00" y1="332.50" x2="400.00" y2="332.50" stroke="#a3113b" stroke-width="1.5" stroke-linecap="butt"/>
<path d="M394.50 279.87 L398.20 285.79 L390.80 285.79 Z" fill="none" stroke="#a3113b" stroke-width="1.7" stroke-linejoin="miter"/>
<path d="M394.50 336.37 L398.20 342.29 L390.80 342.29 Z" fill="none" stroke="#a3113b" stroke-width="1.7" stroke-linejoin="miter"/>
<path d="M394.50 340.47 L398.20 346.39 L390.80 346.39 Z" fill="none" stroke="#a3113b" stroke-width="1.7" stroke-linejoin="miter"/>
<path d="M394.50 345.77 L398.20 351.69 L390.80 351.69 Z" fill="none" stroke="#a3113b" stroke-width="1.7" stroke-linejoin="miter"/>
<path d="M394.50 349.07 L398.20 354.99 L390.80 354.99 Z" fill="none" stroke="#a3113b" stroke-width="1.7" stroke-linejoin="miter"/>
<line x1="436.70" y1="283.30" x2="436.70" y2="297.00" stroke="#a3113b" stroke-width="1.5" stroke-linecap="butt"/>
<line x1="433.70" y1="283.30" x2="439.70" y2="283.30" stroke="#a3113b" stroke-width="1.5" stroke-linecap="butt"/>
<line x1="433.70" y1="297.00" x2="439.70" y2="297.00" stroke="#a3113b" stroke-width="1.5" stroke-linecap="butt"/>
<line x1="431.20" y1="292.70" x2="442.20" y2="292.70" stroke="#a3113b" stroke-width="1.5" stroke-linecap="butt"/>
<path d="M436.70 270.97 L440.40 276.89 L433.00 276.89 Z" fill="none" stroke="#a3113b" stroke-width="1.7" stroke-linejoin="miter"/>
<path d="M436.70 293.27 L440.40 299.19 L433.00 299.19 Z" fill="none" stroke="#a3113b" stroke-width="1.7" stroke-linejoin="miter"/>
<path d="M434.70 294.57 L438.40 300.49 L431.00 300.49 Z" fill="none" stroke="#a3113b" stroke-width="1.7" stroke-linejoin="miter"/>
<path d="M438.70 294.07 L442.40 299.99 L435.00 299.99 Z" fill="none" stroke="#a3113b" stroke-width="1.7" stroke-linejoin="miter"/>
<line x1="478.50" y1="286.00" x2="478.50" y2="297.00" stroke="#a3113b" stroke-width="1.5" stroke-linecap="butt"/>
<line x1="475.50" y1="286.00" x2="481.50" y2="286.00" stroke="#a3113b" stroke-width="1.5" stroke-linecap="butt"/>
<line x1="475.50" y1="297.00" x2="481.50" y2="297.00" stroke="#a3113b" stroke-width="1.5" stroke-linecap="butt"/>
<line x1="473.00" y1="290.00" x2="484.00" y2="290.00" stroke="#a3113b" stroke-width="1.5" stroke-linecap="butt"/>
<path d="M478.50 282.57 L482.20 288.49 L474.80 288.49 Z" fill="none" stroke="#a3113b" stroke-width="1.7" stroke-linejoin="miter"/>
<path d="M478.50 286.57 L482.20 292.49 L474.80 292.49 Z" fill="none" stroke="#a3113b" stroke-width="1.7" stroke-linejoin="miter"/>
<path d="M478.50 290.07 L482.20 295.99 L474.80 295.99 Z" fill="none" stroke="#a3113b" stroke-width="1.7" stroke-linejoin="miter"/>
<path d="M476.30 299.47 L480.00 305.39 L472.60 305.39 Z" fill="none" stroke="#a3113b" stroke-width="1.7" stroke-linejoin="miter"/>
<path d="M484.40 295.97 L488.10 301.89 L480.70 301.89 Z" fill="none" stroke="#a3113b" stroke-width="1.7" stroke-linejoin="miter"/>
<line x1="463.70" y1="265.80" x2="479.80" y2="265.80" stroke="#1a1a1a" stroke-width="1.2" stroke-linecap="butt"/>
<circle cx="471.75" cy="259.70" r="1.0" fill="#2a2a2a"/>
<line x1="323.90" y1="385.60" x2="323.90" y2="475.90" stroke="#000" stroke-width="1.8" stroke-linecap="butt"/>
<line x1="319.50" y1="475.00" x2="323.90" y2="475.00" stroke="#000" stroke-width="1.4" stroke-linecap="butt"/>
<text x="315.40" y="478.00" font-size="8.4" fill="#2a2a2a" text-anchor="end">0</text>
<line x1="319.50" y1="453.68" x2="323.90" y2="453.68" stroke="#000" stroke-width="1.4" stroke-linecap="butt"/>
<text x="315.40" y="456.68" font-size="8.4" fill="#2a2a2a" text-anchor="end">25</text>
<line x1="319.50" y1="432.35" x2="323.90" y2="432.35" stroke="#000" stroke-width="1.4" stroke-linecap="butt"/>
<text x="315.40" y="435.35" font-size="8.4" fill="#2a2a2a" text-anchor="end">50</text>
<line x1="319.50" y1="411.02" x2="323.90" y2="411.02" stroke="#000" stroke-width="1.4" stroke-linecap="butt"/>
<text x="315.40" y="414.02" font-size="8.4" fill="#2a2a2a" text-anchor="end">75</text>
<line x1="319.50" y1="389.70" x2="323.90" y2="389.70" stroke="#000" stroke-width="1.4" stroke-linecap="butt"/>
<text x="315.40" y="392.70" font-size="8.4" fill="#2a2a2a" text-anchor="end">100</text>
<line x1="319.60" y1="475.00" x2="493.80" y2="475.00" stroke="#000" stroke-width="1.8" stroke-linecap="butt"/>
<line x1="344.80" y1="475.00" x2="344.80" y2="479.00" stroke="#000" stroke-width="1.4" stroke-linecap="butt"/>
<line x1="386.90" y1="475.00" x2="386.90" y2="479.00" stroke="#000" stroke-width="1.4" stroke-linecap="butt"/>
<line x1="430.20" y1="475.00" x2="430.20" y2="479.00" stroke="#000" stroke-width="1.4" stroke-linecap="butt"/>
<line x1="471.60" y1="475.00" x2="471.60" y2="479.00" stroke="#000" stroke-width="1.4" stroke-linecap="butt"/>
<text x="295.60" y="430.30" font-size="11.3" fill="#2a2a2a" text-anchor="middle" textLength="105.00" lengthAdjust="spacingAndGlyphs" transform="rotate(-90 295.60 430.30)" style="stroke-width:0.1px">Percent CD8<tspan baseline-shift="super" font-size="7.68">+</tspan>Ki-67<tspan baseline-shift="super" font-size="7.68">+</tspan> cells</text>
<line x1="336.50" y1="472.00" x2="336.50" y2="474.00" stroke="#263f72" stroke-width="1.5" stroke-linecap="butt"/>
<line x1="333.50" y1="472.00" x2="339.50" y2="472.00" stroke="#263f72" stroke-width="1.5" stroke-linecap="butt"/>
<line x1="333.50" y1="474.00" x2="339.50" y2="474.00" stroke="#263f72" stroke-width="1.5" stroke-linecap="butt"/>
<line x1="331.00" y1="473.00" x2="342.00" y2="473.00" stroke="#263f72" stroke-width="1.5" stroke-linecap="butt"/>
<circle cx="331.50" cy="473.00" r="3.3" fill="none" stroke="#263f72" stroke-width="1.7"/>
<circle cx="335.50" cy="474.00" r="3.3" fill="none" stroke="#263f72" stroke-width="1.7"/>
<circle cx="339.50" cy="473.50" r="3.3" fill="none" stroke="#263f72" stroke-width="1.7"/>
<circle cx="342.00" cy="472.50" r="3.3" fill="none" stroke="#263f72" stroke-width="1.7"/>
<line x1="380.00" y1="394.00" x2="380.00" y2="400.00" stroke="#263f72" stroke-width="1.5" stroke-linecap="butt"/>
<line x1="377.00" y1="394.00" x2="383.00" y2="394.00" stroke="#263f72" stroke-width="1.5" stroke-linecap="butt"/>
<line x1="377.00" y1="400.00" x2="383.00" y2="400.00" stroke="#263f72" stroke-width="1.5" stroke-linecap="butt"/>
<line x1="374.50" y1="396.00" x2="385.50" y2="396.00" stroke="#263f72" stroke-width="1.5" stroke-linecap="butt"/>
<circle cx="376.40" cy="394.20" r="3.3" fill="none" stroke="#263f72" stroke-width="1.7"/>
<circle cx="380.40" cy="393.70" r="3.3" fill="none" stroke="#263f72" stroke-width="1.7"/>
<circle cx="385.80" cy="393.70" r="3.3" fill="none" stroke="#263f72" stroke-width="1.7"/>
<circle cx="379.00" cy="402.30" r="3.3" fill="none" stroke="#263f72" stroke-width="1.7"/>
<line x1="422.00" y1="396.00" x2="422.00" y2="401.00" stroke="#263f72" stroke-width="1.5" stroke-linecap="butt"/>
<line x1="419.00" y1="396.00" x2="425.00" y2="396.00" stroke="#263f72" stroke-width="1.5" stroke-linecap="butt"/>
<line x1="419.00" y1="401.00" x2="425.00" y2="401.00" stroke="#263f72" stroke-width="1.5" stroke-linecap="butt"/>
<line x1="416.50" y1="398.00" x2="427.50" y2="398.00" stroke="#263f72" stroke-width="1.5" stroke-linecap="butt"/>
<circle cx="417.70" cy="397.20" r="3.3" fill="none" stroke="#263f72" stroke-width="1.7"/>
<circle cx="426.90" cy="394.90" r="3.3" fill="none" stroke="#263f72" stroke-width="1.7"/>
<circle cx="422.30" cy="401.20" r="3.3" fill="none" stroke="#263f72" stroke-width="1.7"/>
<circle cx="424.00" cy="400.00" r="3.3" fill="none" stroke="#263f72" stroke-width="1.7"/>
<line x1="464.00" y1="396.00" x2="464.00" y2="400.00" stroke="#263f72" stroke-width="1.5" stroke-linecap="butt"/>
<line x1="461.00" y1="396.00" x2="467.00" y2="396.00" stroke="#263f72" stroke-width="1.5" stroke-linecap="butt"/>
<line x1="461.00" y1="400.00" x2="467.00" y2="400.00" stroke="#263f72" stroke-width="1.5" stroke-linecap="butt"/>
<line x1="458.50" y1="398.00" x2="469.50" y2="398.00" stroke="#263f72" stroke-width="1.5" stroke-linecap="butt"/>
<circle cx="463.80" cy="395.40" r="3.3" fill="none" stroke="#263f72" stroke-width="1.7"/>
<circle cx="464.30" cy="400.00" r="3.3" fill="none" stroke="#263f72" stroke-width="1.7"/>
<line x1="353.00" y1="468.00" x2="353.00" y2="473.00" stroke="#a3113b" stroke-width="1.5" stroke-linecap="butt"/>
<line x1="350.00" y1="468.00" x2="356.00" y2="468.00" stroke="#a3113b" stroke-width="1.5" stroke-linecap="butt"/>
<line x1="350.00" y1="473.00" x2="356.00" y2="473.00" stroke="#a3113b" stroke-width="1.5" stroke-linecap="butt"/>
<line x1="347.50" y1="470.50" x2="358.50" y2="470.50" stroke="#a3113b" stroke-width="1.5" stroke-linecap="butt"/>
<path d="M349.80 466.57 L353.50 472.49 L346.10 472.49 Z" fill="none" stroke="#a3113b" stroke-width="1.7" stroke-linejoin="miter"/>
<path d="M353.50 465.17 L357.20 471.09 L349.80 471.09 Z" fill="none" stroke="#a3113b" stroke-width="1.7" stroke-linejoin="miter"/>
<path d="M357.80 463.17 L361.50 469.09 L354.10 469.09 Z" fill="none" stroke="#a3113b" stroke-width="1.7" stroke-linejoin="miter"/>
<path d="M352.50 468.87 L356.20 474.79 L348.80 474.79 Z" fill="none" stroke="#a3113b" stroke-width="1.7" stroke-linejoin="miter"/>
<path d="M357.00 467.57 L360.70 473.49 L353.30 473.49 Z" fill="none" stroke="#a3113b" stroke-width="1.7" stroke-linejoin="miter"/>
<line x1="396.50" y1="428.70" x2="396.50" y2="470.00" stroke="#a3113b" stroke-width="1.5" stroke-linecap="butt"/>
<line x1="393.50" y1="428.70" x2="399.50" y2="428.70" stroke="#a3113b" stroke-width="1.5" stroke-linecap="butt"/>
<line x1="393.50" y1="470.00" x2="399.50" y2="470.00" stroke="#a3113b" stroke-width="1.5" stroke-linecap="butt"/>
<line x1="391.00" y1="454.80" x2="402.00" y2="454.80" stroke="#a3113b" stroke-width="1.5" stroke-linecap="butt"/>
<path d="M396.50 404.27 L400.20 410.19 L392.80 410.19 Z" fill="none" stroke="#a3113b" stroke-width="1.7" stroke-linejoin="miter"/>
<path d="M389.80 450.07 L393.50 455.99 L386.10 455.99 Z" fill="none" stroke="#a3113b" stroke-width="1.7" stroke-linejoin="miter"/>
<path d="M397.90 452.17 L401.60 458.09 L394.20 458.09 Z" fill="none" stroke="#a3113b" stroke-width="1.7" stroke-linejoin="miter"/>
<path d="M394.50 456.57 L398.20 462.49 L390.80 462.49 Z" fill="none" stroke="#a3113b" stroke-width="1.7" stroke-linejoin="miter"/>
<path d="M394.40 461.07 L398.10 466.99 L390.70 466.99 Z" fill="none" stroke="#a3113b" stroke-width="1.7" stroke-linejoin="miter"/>
<path d="M394.40 464.87 L398.10 470.79 L390.70 470.79 Z" fill="none" stroke="#a3113b" stroke-width="1.7" stroke-linejoin="miter"/>
<line x1="438.50" y1="401.00" x2="438.50" y2="410.00" stroke="#a3113b" stroke-width="1.5" stroke-linecap="butt"/>
<line x1="435.50" y1="401.00" x2="441.50" y2="401.00" stroke="#a3113b" stroke-width="1.5" stroke-linecap="butt"/>
<line x1="435.50" y1="410.00" x2="441.50" y2="410.00" stroke="#a3113b" stroke-width="1.5" stroke-linecap="butt"/>
<line x1="433.00" y1="405.50" x2="444.00" y2="405.50" stroke="#a3113b" stroke-width="1.5" stroke-linecap="butt"/>
<path d="M433.80 396.57 L437.50 402.49 L430.10 402.49 Z" fill="none" stroke="#a3113b" stroke-width="1.7" stroke-linejoin="miter"/>
<path d="M441.90 397.77 L445.60 403.69 L438.20 403.69 Z" fill="none" stroke="#a3113b" stroke-width="1.7" stroke-linejoin="miter"/>
<path d="M443.00 402.37 L446.70 408.29 L439.30 408.29 Z" fill="none" stroke="#a3113b" stroke-width="1.7" stroke-linejoin="miter"/>
<path d="M438.50 404.57 L442.20 410.49 L434.80 410.49 Z" fill="none" stroke="#a3113b" stroke-width="1.7" stroke-linejoin="miter"/>
<path d="M435.00 408.07 L438.70 413.99 L431.30 413.99 Z" fill="none" stroke="#a3113b" stroke-width="1.7" stroke-linejoin="miter"/>
<path d="M438.50 408.07 L442.20 413.99 L434.80 413.99 Z" fill="none" stroke="#a3113b" stroke-width="1.7" stroke-linejoin="miter"/>
<line x1="480.50" y1="400.00" x2="480.50" y2="409.00" stroke="#a3113b" stroke-width="1.5" stroke-linecap="butt"/>
<line x1="477.50" y1="400.00" x2="483.50" y2="400.00" stroke="#a3113b" stroke-width="1.5" stroke-linecap="butt"/>
<line x1="477.50" y1="409.00" x2="483.50" y2="409.00" stroke="#a3113b" stroke-width="1.5" stroke-linecap="butt"/>
<line x1="475.00" y1="404.50" x2="486.00" y2="404.50" stroke="#a3113b" stroke-width="1.5" stroke-linecap="butt"/>
<path d="M481.20 394.27 L484.90 400.19 L477.50 400.19 Z" fill="none" stroke="#a3113b" stroke-width="1.7" stroke-linejoin="miter"/>
<path d="M475.40 400.07 L479.10 405.99 L471.70 405.99 Z" fill="none" stroke="#a3113b" stroke-width="1.7" stroke-linejoin="miter"/>
<path d="M485.80 400.07 L489.50 405.99 L482.10 405.99 Z" fill="none" stroke="#a3113b" stroke-width="1.7" stroke-linejoin="miter"/>
<path d="M480.00 405.77 L483.70 411.69 L476.30 411.69 Z" fill="none" stroke="#a3113b" stroke-width="1.7" stroke-linejoin="miter"/>
<path d="M480.00 407.07 L483.70 412.99 L476.30 412.99 Z" fill="none" stroke="#a3113b" stroke-width="1.7" stroke-linejoin="miter"/>
<line x1="337.30" y1="388.30" x2="354.00" y2="388.30" stroke="#1a1a1a" stroke-width="1.2" stroke-linecap="butt"/>
<circle cx="345.65" cy="382.20" r="1.0" fill="#2a2a2a"/>
<line x1="380.40" y1="388.30" x2="397.10" y2="388.30" stroke="#1a1a1a" stroke-width="1.2" stroke-linecap="butt"/>
<circle cx="386.90" cy="382.20" r="1.0" fill="#2a2a2a"/>
<circle cx="390.60" cy="382.20" r="1.0" fill="#2a2a2a"/>
<line x1="323.90" y1="502.00" x2="323.90" y2="592.40" stroke="#000" stroke-width="1.8" stroke-linecap="butt"/>
<line x1="319.50" y1="591.50" x2="323.90" y2="591.50" stroke="#000" stroke-width="1.4" stroke-linecap="butt"/>
<text x="315.40" y="594.50" font-size="8.4" fill="#2a2a2a" text-anchor="end">0</text>
<line x1="319.50" y1="570.30" x2="323.90" y2="570.30" stroke="#000" stroke-width="1.4" stroke-linecap="butt"/>
<text x="315.40" y="573.30" font-size="8.4" fill="#2a2a2a" text-anchor="end">25</text>
<line x1="319.50" y1="549.10" x2="323.90" y2="549.10" stroke="#000" stroke-width="1.4" stroke-linecap="butt"/>
<text x="315.40" y="552.10" font-size="8.4" fill="#2a2a2a" text-anchor="end">50</text>
<line x1="319.50" y1="527.90" x2="323.90" y2="527.90" stroke="#000" stroke-width="1.4" stroke-linecap="butt"/>
<text x="315.40" y="530.90" font-size="8.4" fill="#2a2a2a" text-anchor="end">75</text>
<line x1="319.50" y1="506.70" x2="323.90" y2="506.70" stroke="#000" stroke-width="1.4" stroke-linecap="butt"/>
<text x="315.40" y="509.70" font-size="8.4" fill="#2a2a2a" text-anchor="end">100</text>
<line x1="319.60" y1="591.50" x2="493.80" y2="591.50" stroke="#000" stroke-width="1.8" stroke-linecap="butt"/>
<line x1="344.80" y1="591.50" x2="344.80" y2="595.50" stroke="#000" stroke-width="1.4" stroke-linecap="butt"/>
<line x1="386.90" y1="591.50" x2="386.90" y2="595.50" stroke="#000" stroke-width="1.4" stroke-linecap="butt"/>
<line x1="430.20" y1="591.50" x2="430.20" y2="595.50" stroke="#000" stroke-width="1.4" stroke-linecap="butt"/>
<line x1="471.60" y1="591.50" x2="471.60" y2="595.50" stroke="#000" stroke-width="1.4" stroke-linecap="butt"/>
<text x="296.40" y="548.00" font-size="11.3" fill="#2a2a2a" text-anchor="middle" textLength="105.00" lengthAdjust="spacingAndGlyphs" transform="rotate(-90 296.40 548.00)" style="stroke-width:0.1px">Percent CD8<tspan baseline-shift="super" font-size="7.68">+</tspan>CFSE<tspan baseline-shift="super" font-size="7.68">lo</tspan> cells</text>
<circle cx="338.70" cy="590.90" r="3.6" fill="#2d528f" stroke="#263f72" stroke-width="1.2"/>
<line x1="379.50" y1="512.00" x2="379.50" y2="523.00" stroke="#263f72" stroke-width="1.5" stroke-linecap="butt"/>
<line x1="376.50" y1="512.00" x2="382.50" y2="512.00" stroke="#263f72" stroke-width="1.5" stroke-linecap="butt"/>
<line x1="376.50" y1="523.00" x2="382.50" y2="523.00" stroke="#263f72" stroke-width="1.5" stroke-linecap="butt"/>
<line x1="374.00" y1="517.00" x2="385.00" y2="517.00" stroke="#263f72" stroke-width="1.5" stroke-linecap="butt"/>
<circle cx="373.70" cy="512.90" r="3.3" fill="none" stroke="#263f72" stroke-width="1.7"/>
<circle cx="380.40" cy="512.10" r="3.3" fill="none" stroke="#263f72" stroke-width="1.7"/>
<circle cx="384.40" cy="520.20" r="3.3" fill="none" stroke="#263f72" stroke-width="1.7"/>
<circle cx="377.70" cy="524.50" r="3.3" fill="none" stroke="#263f72" stroke-width="1.7"/>
<line x1="421.50" y1="515.00" x2="421.50" y2="519.50" stroke="#263f72" stroke-width="1.5" stroke-linecap="butt"/>
<line x1="418.50" y1="515.00" x2="424.50" y2="515.00" stroke="#263f72" stroke-width="1.5" stroke-linecap="butt"/>
<line x1="418.50" y1="519.50" x2="424.50" y2="519.50" stroke="#263f72" stroke-width="1.5" stroke-linecap="butt"/>
<line x1="416.00" y1="517.00" x2="427.00" y2="517.00" stroke="#263f72" stroke-width="1.5" stroke-linecap="butt"/>
<circle cx="416.50" cy="515.80" r="3.3" fill="none" stroke="#263f72" stroke-width="1.7"/>
<circle cx="426.90" cy="514.20" r="3.3" fill="none" stroke="#263f72" stroke-width="1.7"/>
<circle cx="421.20" cy="519.50" r="3.3" fill="none" stroke="#263f72" stroke-width="1.7"/>
<circle cx="423.00" cy="517.50" r="3.3" fill="none" stroke="#263f72" stroke-width="1.7"/>
<line x1="463.90" y1="516.00" x2="463.90" y2="524.00" stroke="#263f72" stroke-width="1.5" stroke-linecap="butt"/>
<line x1="460.90" y1="516.00" x2="466.90" y2="516.00" stroke="#263f72" stroke-width="1.5" stroke-linecap="butt"/>
<line x1="460.90" y1="524.00" x2="466.90" y2="524.00" stroke="#263f72" stroke-width="1.5" stroke-linecap="butt"/>
<line x1="458.40" y1="520.00" x2="469.40" y2="520.00" stroke="#263f72" stroke-width="1.5" stroke-linecap="butt"/>
<circle cx="463.90" cy="515.40" r="3.3" fill="none" stroke="#263f72" stroke-width="1.7"/>
<circle cx="463.90" cy="520.00" r="3.3" fill="none" stroke="#263f72" stroke-width="1.7"/>
<circle cx="463.90" cy="524.60" r="3.3" fill="none" stroke="#263f72" stroke-width="1.7"/>
<line x1="353.50" y1="568.00" x2="353.50" y2="591.00" stroke="#a3113b" stroke-width="1.5" stroke-linecap="butt"/>
<line x1="350.50" y1="568.00" x2="356.50" y2="568.00" stroke="#a3113b" stroke-width="1.5" stroke-linecap="butt"/>
<line x1="350.50" y1="591.00" x2="356.50" y2="591.00" stroke="#a3113b" stroke-width="1.5" stroke-linecap="butt"/>
<line x1="348.00" y1="580.20" x2="359.00" y2="580.20" stroke="#a3113b" stroke-width="1.5" stroke-linecap="butt"/>
<path d="M353.50 555.27 L357.20 561.19 L349.80 561.19 Z" fill="none" stroke="#a3113b" stroke-width="1.7" stroke-linejoin="miter"/>
<path d="M348.10 578.07 L351.80 583.99 L344.40 583.99 Z" fill="none" stroke="#a3113b" stroke-width="1.7" stroke-linejoin="miter"/>
<path d="M358.90 579.47 L362.60 585.39 L355.20 585.39 Z" fill="none" stroke="#a3113b" stroke-width="1.7" stroke-linejoin="miter"/>
<path d="M353.50 574.07 L357.20 579.99 L349.80 579.99 Z" fill="none" stroke="#a3113b" stroke-width="1.7" stroke-linejoin="miter"/>
<path d="M353.50 586.17 L357.20 592.09 L349.80 592.09 Z" fill="none" stroke="#a3113b" stroke-width="1.7" stroke-linejoin="miter"/>
<line x1="395.20" y1="554.60" x2="395.20" y2="583.00" stroke="#a3113b" stroke-width="1.5" stroke-linecap="butt"/>
<line x1="392.20" y1="554.60" x2="398.20" y2="554.60" stroke="#a3113b" stroke-width="1.5" stroke-linecap="butt"/>
<line x1="392.20" y1="583.00" x2="398.20" y2="583.00" stroke="#a3113b" stroke-width="1.5" stroke-linecap="butt"/>
<line x1="389.70" y1="568.60" x2="400.70" y2="568.60" stroke="#a3113b" stroke-width="1.5" stroke-linecap="butt"/>
<path d="M395.20 541.77 L398.90 547.69 L391.50 547.69 Z" fill="none" stroke="#a3113b" stroke-width="1.7" stroke-linejoin="miter"/>
<path d="M388.50 558.77 L392.20 564.69 L384.80 564.69 Z" fill="none" stroke="#a3113b" stroke-width="1.7" stroke-linejoin="miter"/>
<path d="M399.20 565.97 L402.90 571.89 L395.50 571.89 Z" fill="none" stroke="#a3113b" stroke-width="1.7" stroke-linejoin="miter"/>
<path d="M395.20 574.07 L398.90 579.99 L391.50 579.99 Z" fill="none" stroke="#a3113b" stroke-width="1.7" stroke-linejoin="miter"/>
<path d="M395.20 582.17 L398.90 588.09 L391.50 588.09 Z" fill="none" stroke="#a3113b" stroke-width="1.7" stroke-linejoin="miter"/>
<line x1="438.00" y1="524.60" x2="438.00" y2="539.60" stroke="#a3113b" stroke-width="1.5" stroke-linecap="butt"/>
<line x1="435.00" y1="524.60" x2="441.00" y2="524.60" stroke="#a3113b" stroke-width="1.5" stroke-linecap="butt"/>
<line x1="435.00" y1="539.60" x2="441.00" y2="539.60" stroke="#a3113b" stroke-width="1.5" stroke-linecap="butt"/>
<line x1="432.50" y1="532.70" x2="443.50" y2="532.70" stroke="#a3113b" stroke-width="1.5" stroke-linecap="butt"/>
<path d="M438.00 515.37 L441.70 521.29 L434.30 521.29 Z" fill="none" stroke="#a3113b" stroke-width="1.7" stroke-linejoin="miter"/>
<path d="M432.70 521.17 L436.40 527.09 L429.00 527.09 Z" fill="none" stroke="#a3113b" stroke-width="1.7" stroke-linejoin="miter"/>
<path d="M443.50 524.67 L447.20 530.59 L439.80 530.59 Z" fill="none" stroke="#a3113b" stroke-width="1.7" stroke-linejoin="miter"/>
<path d="M438.50 529.27 L442.20 535.19 L434.80 535.19 Z" fill="none" stroke="#a3113b" stroke-width="1.7" stroke-linejoin="miter"/>
<path d="M438.00 545.37 L441.70 551.29 L434.30 551.29 Z" fill="none" stroke="#a3113b" stroke-width="1.7" stroke-linejoin="miter"/>
<line x1="480.50" y1="520.00" x2="480.50" y2="540.00" stroke="#a3113b" stroke-width="1.5" stroke-linecap="butt"/>
<line x1="477.50" y1="520.00" x2="483.50" y2="520.00" stroke="#a3113b" stroke-width="1.5" stroke-linecap="butt"/>
<line x1="477.50" y1="540.00" x2="483.50" y2="540.00" stroke="#a3113b" stroke-width="1.5" stroke-linecap="butt"/>
<line x1="475.00" y1="531.00" x2="486.00" y2="531.00" stroke="#a3113b" stroke-width="1.5" stroke-linecap="butt"/>
<path d="M480.50 513.77 L484.20 519.69 L476.80 519.69 Z" fill="none" stroke="#a3113b" stroke-width="1.7" stroke-linejoin="miter"/>
<path d="M480.50 518.87 L484.20 524.79 L476.80 524.79 Z" fill="none" stroke="#a3113b" stroke-width="1.7" stroke-linejoin="miter"/>
<path d="M480.50 523.07 L484.20 528.99 L476.80 528.99 Z" fill="none" stroke="#a3113b" stroke-width="1.7" stroke-linejoin="miter"/>
<path d="M477.70 525.77 L481.40 531.69 L474.00 531.69 Z" fill="none" stroke="#a3113b" stroke-width="1.7" stroke-linejoin="miter"/>
<path d="M482.50 527.57 L486.20 533.49 L478.80 533.49 Z" fill="none" stroke="#a3113b" stroke-width="1.7" stroke-linejoin="miter"/>
<path d="M480.50 539.17 L484.20 545.09 L476.80 545.09 Z" fill="none" stroke="#a3113b" stroke-width="1.7" stroke-linejoin="miter"/>
<line x1="336.80" y1="506.70" x2="353.50" y2="506.70" stroke="#1a1a1a" stroke-width="1.2" stroke-linecap="butt"/>
<circle cx="345.15" cy="500.60" r="1.0" fill="#2a2a2a"/>
<line x1="377.70" y1="506.70" x2="395.20" y2="506.70" stroke="#1a1a1a" stroke-width="1.2" stroke-linecap="butt"/>
<circle cx="384.60" cy="500.60" r="1.0" fill="#2a2a2a"/>
<circle cx="388.30" cy="500.60" r="1.0" fill="#2a2a2a"/>
<line x1="421.20" y1="506.60" x2="437.30" y2="506.60" stroke="#1a1a1a" stroke-width="1.2" stroke-linecap="butt"/>
<circle cx="429.25" cy="500.50" r="1.0" fill="#2a2a2a"/>
<text x="345.60" y="608.40" font-size="9.0" fill="#231f20" text-anchor="middle" textLength="26.40" lengthAdjust="spacingAndGlyphs">unstim</text>
<text x="388.20" y="608.40" font-size="9.2" fill="#231f20" text-anchor="middle" textLength="16.60" lengthAdjust="spacingAndGlyphs">PHA</text>
<text x="430.10" y="608.00" font-size="9.0" fill="#231f20" text-anchor="middle" textLength="23.70" lengthAdjust="spacingAndGlyphs">αCD3</text>
<text x="471.90" y="608.00" font-size="9.0" fill="#231f20" text-anchor="middle" textLength="54.00" lengthAdjust="spacingAndGlyphs">αCD3/αCD28</text>
<text x="10.90" y="645.00" font-size="14.5" fill="#000" font-weight="bold" textLength="8.00" lengthAdjust="spacingAndGlyphs">E</text>
<text x="270.70" y="645.20" font-size="14.5" fill="#000" font-weight="bold" textLength="8.10" lengthAdjust="spacingAndGlyphs">F</text>
<line x1="65.50" y1="650.60" x2="65.50" y2="750.20" stroke="#000" stroke-width="1.8" stroke-linecap="butt"/>
<line x1="61.10" y1="749.30" x2="65.50" y2="749.30" stroke="#000" stroke-width="1.4" stroke-linecap="butt"/>
<text x="57.00" y="752.30" font-size="8.4" fill="#2a2a2a" text-anchor="end">0</text>
<line x1="61.10" y1="725.50" x2="65.50" y2="725.50" stroke="#000" stroke-width="1.4" stroke-linecap="butt"/>
<text x="57.00" y="728.50" font-size="8.4" fill="#2a2a2a" text-anchor="end">25</text>
<line x1="61.10" y1="701.70" x2="65.50" y2="701.70" stroke="#000" stroke-width="1.4" stroke-linecap="butt"/>
<text x="57.00" y="704.70" font-size="8.4" fill="#2a2a2a" text-anchor="end">50</text>
<line x1="61.10" y1="677.90" x2="65.50" y2="677.90" stroke="#000" stroke-width="1.4" stroke-linecap="butt"/>
<text x="57.00" y="680.90" font-size="8.4" fill="#2a2a2a" text-anchor="end">75</text>
<line x1="61.10" y1="654.10" x2="65.50" y2="654.10" stroke="#000" stroke-width="1.4" stroke-linecap="butt"/>
<text x="57.00" y="657.10" font-size="8.4" fill="#2a2a2a" text-anchor="end">100</text>
<line x1="61.30" y1="749.30" x2="208.70" y2="749.30" stroke="#000" stroke-width="1.8" stroke-linecap="butt"/>
<line x1="82.90" y1="749.30" x2="82.90" y2="753.30" stroke="#000" stroke-width="1.4" stroke-linecap="butt"/>
<line x1="118.80" y1="749.30" x2="118.80" y2="753.30" stroke="#000" stroke-width="1.4" stroke-linecap="butt"/>
<line x1="154.80" y1="749.30" x2="154.80" y2="753.30" stroke="#000" stroke-width="1.4" stroke-linecap="butt"/>
<line x1="190.80" y1="749.30" x2="190.80" y2="753.30" stroke="#000" stroke-width="1.4" stroke-linecap="butt"/>
<text x="82.90" y="766.20" font-size="8.6" fill="#2a2a2a" text-anchor="middle">0</text>
<text x="118.80" y="766.20" font-size="8.6" fill="#2a2a2a" text-anchor="middle">5</text>
<text x="154.80" y="766.20" font-size="8.6" fill="#2a2a2a" text-anchor="middle">50</text>
<text x="190.80" y="766.20" font-size="8.6" fill="#2a2a2a" text-anchor="middle">500</text>
<text x="34.40" y="699.95" font-size="10.8" fill="#2a2a2a" text-anchor="middle" textLength="86.00" lengthAdjust="spacingAndGlyphs" transform="rotate(-90 34.40 699.95)" style="stroke-width:0.1px">CFSE<tspan baseline-shift="super" font-size="7.34">lo</tspan>CD4<tspan baseline-shift="super" font-size="7.34">+</tspan> cells (%)</text>
<polyline points="82.90,746.44 118.80,699.80 154.80,725.50 190.80,739.78" fill="none" stroke="#a3113b" stroke-width="2.3" stroke-linejoin="round"/>
<polyline points="82.90,747.40 118.80,666.48 154.80,672.19 190.80,714.08" fill="none" stroke="#263f72" stroke-width="2.3" stroke-linejoin="round"/>
<path d="M82.90 742.24 L87.30 749.44 L78.50 749.44 Z" fill="#a3113b"/>
<path d="M118.80 695.60 L123.20 702.80 L114.40 702.80 Z" fill="#a3113b"/>
<path d="M154.80 721.30 L159.20 728.50 L150.40 728.50 Z" fill="#a3113b"/>
<path d="M190.80 735.58 L195.20 742.78 L186.40 742.78 Z" fill="#a3113b"/>
<circle cx="82.90" cy="747.40" r="3.9" fill="#263f72"/>
<circle cx="118.80" cy="666.48" r="3.9" fill="#263f72"/>
<circle cx="154.80" cy="672.19" r="3.9" fill="#263f72"/>
<circle cx="190.80" cy="714.08" r="3.9" fill="#263f72"/>
<text x="136.00" y="782.60" font-size="11.0" fill="#231f20" text-anchor="middle" textLength="122.60" lengthAdjust="spacingAndGlyphs">Phytohemagglutinin (µg/mL)</text>
<line x1="64.80" y1="795.70" x2="64.80" y2="895.10" stroke="#000" stroke-width="1.8" stroke-linecap="butt"/>
<line x1="60.40" y1="894.20" x2="64.80" y2="894.20" stroke="#000" stroke-width="1.4" stroke-linecap="butt"/>
<text x="57.20" y="897.20" font-size="8.4" fill="#2a2a2a" text-anchor="end">0</text>
<line x1="60.40" y1="870.45" x2="64.80" y2="870.45" stroke="#000" stroke-width="1.4" stroke-linecap="butt"/>
<text x="57.20" y="873.45" font-size="8.4" fill="#2a2a2a" text-anchor="end">25</text>
<line x1="60.40" y1="846.70" x2="64.80" y2="846.70" stroke="#000" stroke-width="1.4" stroke-linecap="butt"/>
<text x="57.20" y="849.70" font-size="8.4" fill="#2a2a2a" text-anchor="end">50</text>
<line x1="60.40" y1="822.95" x2="64.80" y2="822.95" stroke="#000" stroke-width="1.4" stroke-linecap="butt"/>
<text x="57.20" y="825.95" font-size="8.4" fill="#2a2a2a" text-anchor="end">75</text>
<line x1="60.40" y1="799.20" x2="64.80" y2="799.20" stroke="#000" stroke-width="1.4" stroke-linecap="butt"/>
<text x="57.20" y="802.20" font-size="8.4" fill="#2a2a2a" text-anchor="end">100</text>
<line x1="60.60" y1="894.20" x2="208.80" y2="894.20" stroke="#000" stroke-width="1.8" stroke-linecap="butt"/>
<line x1="79.70" y1="894.20" x2="79.70" y2="898.20" stroke="#000" stroke-width="1.4" stroke-linecap="butt"/>
<line x1="108.50" y1="894.20" x2="108.50" y2="898.20" stroke="#000" stroke-width="1.4" stroke-linecap="butt"/>
<line x1="136.80" y1="894.20" x2="136.80" y2="898.20" stroke="#000" stroke-width="1.4" stroke-linecap="butt"/>
<line x1="165.60" y1="894.20" x2="165.60" y2="898.20" stroke="#000" stroke-width="1.4" stroke-linecap="butt"/>
<line x1="194.30" y1="894.20" x2="194.30" y2="898.20" stroke="#000" stroke-width="1.4" stroke-linecap="butt"/>
<text x="79.70" y="909.70" font-size="8.6" fill="#2a2a2a" text-anchor="middle">0</text>
<text x="108.50" y="909.70" font-size="8.6" fill="#2a2a2a" text-anchor="middle">0.1</text>
<text x="136.80" y="909.70" font-size="8.6" fill="#2a2a2a" text-anchor="middle">1</text>
<text x="165.60" y="909.70" font-size="8.6" fill="#2a2a2a" text-anchor="middle">10</text>
<text x="194.30" y="909.70" font-size="8.6" fill="#2a2a2a" text-anchor="middle">100</text>
<text x="35.00" y="844.95" font-size="10.8" fill="#2a2a2a" text-anchor="middle" textLength="86.50" lengthAdjust="spacingAndGlyphs" transform="rotate(-90 35.00 844.95)" style="stroke-width:0.1px">CFSE<tspan baseline-shift="super" font-size="7.34">lo</tspan>CD4<tspan baseline-shift="super" font-size="7.34">+</tspan> cells (%)</text>
<polyline points="79.70,890.88 108.50,871.97 136.80,833.97 165.60,829.12 194.30,832.64" fill="none" stroke="#a3113b" stroke-width="2.3" stroke-linejoin="round"/>
<polyline points="79.70,892.30 108.50,856.49 136.80,814.88 165.60,816.68 194.30,823.62" fill="none" stroke="#263f72" stroke-width="2.3" stroke-linejoin="round"/>
<path d="M79.70 886.67 L84.10 893.88 L75.30 893.88 Z" fill="#a3113b"/>
<path d="M108.50 867.77 L112.90 874.97 L104.10 874.97 Z" fill="#a3113b"/>
<path d="M136.80 829.77 L141.20 836.97 L132.40 836.97 Z" fill="#a3113b"/>
<path d="M165.60 824.92 L170.00 832.12 L161.20 832.12 Z" fill="#a3113b"/>
<path d="M194.30 828.44 L198.70 835.64 L189.90 835.64 Z" fill="#a3113b"/>
<circle cx="79.70" cy="892.30" r="3.9" fill="#263f72"/>
<circle cx="108.50" cy="856.49" r="3.9" fill="#263f72"/>
<circle cx="136.80" cy="814.88" r="3.9" fill="#263f72"/>
<circle cx="165.60" cy="816.68" r="3.9" fill="#263f72"/>
<circle cx="194.30" cy="823.62" r="3.9" fill="#263f72"/>
<text x="136.60" y="926.30" font-size="10.4" fill="#231f20" text-anchor="middle" textLength="71.70" lengthAdjust="spacingAndGlyphs">anti-CD3 (ng/mL)</text>
<line x1="325.50" y1="650.00" x2="325.50" y2="750.00" stroke="#000" stroke-width="1.8" stroke-linecap="butt"/>
<line x1="321.10" y1="749.10" x2="325.50" y2="749.10" stroke="#000" stroke-width="1.4" stroke-linecap="butt"/>
<text x="317.40" y="752.10" font-size="8.4" fill="#2a2a2a" text-anchor="end">0</text>
<line x1="321.10" y1="725.33" x2="325.50" y2="725.33" stroke="#000" stroke-width="1.4" stroke-linecap="butt"/>
<text x="317.40" y="728.33" font-size="8.4" fill="#2a2a2a" text-anchor="end">25</text>
<line x1="321.10" y1="701.55" x2="325.50" y2="701.55" stroke="#000" stroke-width="1.4" stroke-linecap="butt"/>
<text x="317.40" y="704.55" font-size="8.4" fill="#2a2a2a" text-anchor="end">50</text>
<line x1="321.10" y1="677.77" x2="325.50" y2="677.77" stroke="#000" stroke-width="1.4" stroke-linecap="butt"/>
<text x="317.40" y="680.77" font-size="8.4" fill="#2a2a2a" text-anchor="end">75</text>
<line x1="321.10" y1="654.00" x2="325.50" y2="654.00" stroke="#000" stroke-width="1.4" stroke-linecap="butt"/>
<text x="317.40" y="657.00" font-size="8.4" fill="#2a2a2a" text-anchor="end">100</text>
<line x1="321.30" y1="749.10" x2="469.90" y2="749.10" stroke="#000" stroke-width="1.8" stroke-linecap="butt"/>
<line x1="343.70" y1="749.10" x2="343.70" y2="753.10" stroke="#000" stroke-width="1.4" stroke-linecap="butt"/>
<line x1="379.70" y1="749.10" x2="379.70" y2="753.10" stroke="#000" stroke-width="1.4" stroke-linecap="butt"/>
<line x1="415.60" y1="749.10" x2="415.60" y2="753.10" stroke="#000" stroke-width="1.4" stroke-linecap="butt"/>
<line x1="451.00" y1="749.10" x2="451.00" y2="753.10" stroke="#000" stroke-width="1.4" stroke-linecap="butt"/>
<text x="343.70" y="766.20" font-size="8.6" fill="#2a2a2a" text-anchor="middle">0</text>
<text x="379.70" y="766.20" font-size="8.6" fill="#2a2a2a" text-anchor="middle">5</text>
<text x="415.60" y="766.20" font-size="8.6" fill="#2a2a2a" text-anchor="middle">50</text>
<text x="451.00" y="766.20" font-size="8.6" fill="#2a2a2a" text-anchor="middle">500</text>
<text x="294.60" y="699.55" font-size="10.8" fill="#2a2a2a" text-anchor="middle" textLength="86.00" lengthAdjust="spacingAndGlyphs" transform="rotate(-90 294.60 699.55)" style="stroke-width:0.1px">CFSE<tspan baseline-shift="super" font-size="7.34">lo</tspan>CD8<tspan baseline-shift="super" font-size="7.34">+</tspan> cells (%)</text>
<polyline points="343.70,739.69 379.70,698.22 415.60,719.14 451.00,728.94" fill="none" stroke="#a3113b" stroke-width="2.3" stroke-linejoin="round"/>
<polyline points="343.70,747.67 379.70,661.23 415.60,666.84 451.00,717.53" fill="none" stroke="#263f72" stroke-width="2.3" stroke-linejoin="round"/>
<path d="M343.70 735.49 L348.10 742.69 L339.30 742.69 Z" fill="#a3113b"/>
<path d="M379.70 694.02 L384.10 701.22 L375.30 701.22 Z" fill="#a3113b"/>
<path d="M415.60 714.94 L420.00 722.14 L411.20 722.14 Z" fill="#a3113b"/>
<path d="M451.00 724.74 L455.40 731.94 L446.60 731.94 Z" fill="#a3113b"/>
<circle cx="343.70" cy="747.67" r="3.9" fill="#263f72"/>
<circle cx="379.70" cy="661.23" r="3.9" fill="#263f72"/>
<circle cx="415.60" cy="666.84" r="3.9" fill="#263f72"/>
<circle cx="451.00" cy="717.53" r="3.9" fill="#263f72"/>
<text x="397.80" y="782.30" font-size="11.0" fill="#231f20" text-anchor="middle" textLength="122.60" lengthAdjust="spacingAndGlyphs">Phytohemagglutinin (µg/mL)</text>
<line x1="325.50" y1="791.30" x2="325.50" y2="895.30" stroke="#000" stroke-width="1.8" stroke-linecap="butt"/>
<line x1="321.10" y1="894.40" x2="325.50" y2="894.40" stroke="#000" stroke-width="1.4" stroke-linecap="butt"/>
<text x="317.40" y="897.40" font-size="8.4" fill="#2a2a2a" text-anchor="end">0</text>
<line x1="321.10" y1="869.70" x2="325.50" y2="869.70" stroke="#000" stroke-width="1.4" stroke-linecap="butt"/>
<text x="317.40" y="872.70" font-size="8.4" fill="#2a2a2a" text-anchor="end">25</text>
<line x1="321.10" y1="845.00" x2="325.50" y2="845.00" stroke="#000" stroke-width="1.4" stroke-linecap="butt"/>
<text x="317.40" y="848.00" font-size="8.4" fill="#2a2a2a" text-anchor="end">50</text>
<line x1="321.10" y1="820.30" x2="325.50" y2="820.30" stroke="#000" stroke-width="1.4" stroke-linecap="butt"/>
<text x="317.40" y="823.30" font-size="8.4" fill="#2a2a2a" text-anchor="end">75</text>
<line x1="321.10" y1="795.60" x2="325.50" y2="795.60" stroke="#000" stroke-width="1.4" stroke-linecap="butt"/>
<text x="317.40" y="798.60" font-size="8.4" fill="#2a2a2a" text-anchor="end">100</text>
<line x1="321.30" y1="894.40" x2="469.90" y2="894.40" stroke="#000" stroke-width="1.8" stroke-linecap="butt"/>
<line x1="340.00" y1="894.40" x2="340.00" y2="898.40" stroke="#000" stroke-width="1.4" stroke-linecap="butt"/>
<line x1="368.80" y1="894.40" x2="368.80" y2="898.40" stroke="#000" stroke-width="1.4" stroke-linecap="butt"/>
<line x1="397.10" y1="894.40" x2="397.10" y2="898.40" stroke="#000" stroke-width="1.4" stroke-linecap="butt"/>
<line x1="425.80" y1="894.40" x2="425.80" y2="898.40" stroke="#000" stroke-width="1.4" stroke-linecap="butt"/>
<line x1="454.90" y1="894.40" x2="454.90" y2="898.40" stroke="#000" stroke-width="1.4" stroke-linecap="butt"/>
<text x="340.00" y="909.60" font-size="8.6" fill="#2a2a2a" text-anchor="middle">0</text>
<text x="368.80" y="909.60" font-size="8.6" fill="#2a2a2a" text-anchor="middle">0.1</text>
<text x="397.10" y="909.60" font-size="8.6" fill="#2a2a2a" text-anchor="middle">1</text>
<text x="425.80" y="909.60" font-size="8.6" fill="#2a2a2a" text-anchor="middle">10</text>
<text x="454.90" y="909.60" font-size="8.6" fill="#2a2a2a" text-anchor="middle">100</text>
<text x="295.90" y="844.60" font-size="10.8" fill="#2a2a2a" text-anchor="middle" textLength="86.20" lengthAdjust="spacingAndGlyphs" transform="rotate(-90 295.90 844.60)" style="stroke-width:0.1px">CFSE<tspan baseline-shift="super" font-size="7.34">lo</tspan>CD8<tspan baseline-shift="super" font-size="7.34">+</tspan> cells (%)</text>
<polyline points="340.00,885.01 368.80,878.49 397.10,831.37 425.80,825.93 454.90,829.19" fill="none" stroke="#a3113b" stroke-width="2.3" stroke-linejoin="round"/>
<polyline points="340.00,892.72 368.80,839.27 397.10,807.65 425.80,807.65 454.90,809.43" fill="none" stroke="#263f72" stroke-width="2.3" stroke-linejoin="round"/>
<path d="M340.00 880.81 L344.40 888.01 L335.60 888.01 Z" fill="#a3113b"/>
<path d="M368.80 874.29 L373.20 881.49 L364.40 881.49 Z" fill="#a3113b"/>
<path d="M397.10 827.17 L401.50 834.37 L392.70 834.37 Z" fill="#a3113b"/>
<path d="M425.80 821.73 L430.20 828.93 L421.40 828.93 Z" fill="#a3113b"/>
<path d="M454.90 824.99 L459.30 832.19 L450.50 832.19 Z" fill="#a3113b"/>
<circle cx="340.00" cy="892.72" r="3.9" fill="#263f72"/>
<circle cx="368.80" cy="839.27" r="3.9" fill="#263f72"/>
<circle cx="397.10" cy="807.65" r="3.9" fill="#263f72"/>
<circle cx="425.80" cy="807.65" r="3.9" fill="#263f72"/>
<circle cx="454.90" cy="809.43" r="3.9" fill="#263f72"/>
<text x="397.50" y="925.80" font-size="10.4" fill="#231f20" text-anchor="middle" textLength="73.00" lengthAdjust="spacingAndGlyphs">anti-CD3 (ng/mL)</text>
<line x1="171.10" y1="657.00" x2="183.60" y2="657.00" stroke="#263f72" stroke-width="2.1" stroke-linecap="butt"/>
<circle cx="177.5" cy="657.0" r="3.6" fill="#263f72"/>
<text x="187.60" y="659.90" font-size="8.8" fill="#231f20" textLength="30.50" lengthAdjust="spacingAndGlyphs">Control</text>
<line x1="171.10" y1="671.00" x2="183.60" y2="671.00" stroke="#a3113b" stroke-width="2.1" stroke-linecap="butt"/>
<path d="M177.5 666.8 L181.9 674.0 L173.1 674.0 Z" fill="#a3113b"/>
<text x="187.60" y="673.90" font-size="8.8" fill="#231f20" textLength="37.50" lengthAdjust="spacingAndGlyphs">Patient 6</text>
<rect x="0" y="0" width="520" height="1.6" fill="#000"/>
<rect x="0" y="0" width="1.8" height="940" fill="#000"/>
<rect x="518.1" y="0" width="1.9" height="940" fill="#000"/>
<rect x="0" y="937.6" width="520" height="2.4" fill="#000"/>
</svg>
</body></html>
